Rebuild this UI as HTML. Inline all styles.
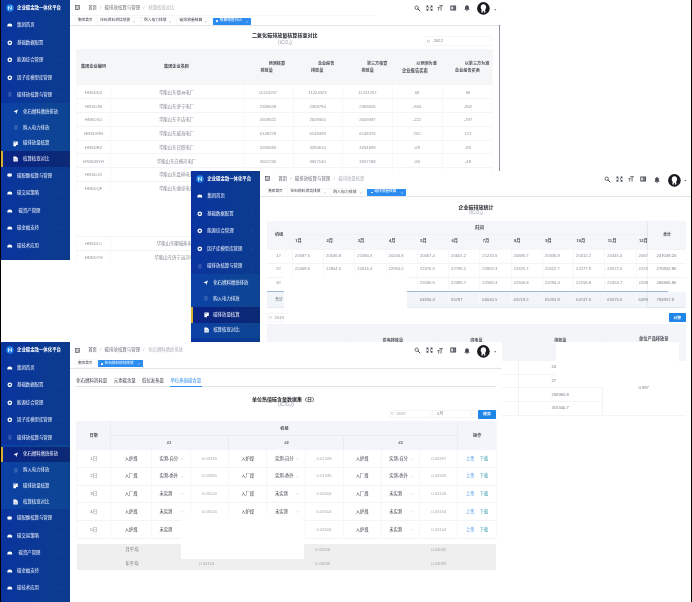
<!DOCTYPE html>
<html lang="zh-CN">
<head>
<meta charset="utf-8">
<title>企业碳金融一体化平台</title>
<style>
html,body{margin:0;padding:0;background:#fff;}
body{width:692px;height:602px;overflow:hidden;position:relative;font-family:"Liberation Sans","Noto Sans CJK SC",sans-serif;}
#page{position:absolute;left:-6px;top:-6px;width:704px;height:614px;overflow:hidden;background:#fff;filter:blur(.3px);}
#w{position:absolute;left:6px;top:6px;width:692px;height:602px;}
.in{position:absolute;}
.shot{position:absolute;overflow:hidden;background:#fff;}
.r{position:absolute;}
.i{position:absolute;overflow:visible;filter:blur(.3px);}
.t{position:absolute;display:inline-flex;align-items:center;white-space:nowrap;line-height:1;filter:blur(0.4px);}
.t i.sb{font-style:normal;position:relative;top:.3em;}
.t span{display:block;}
#A{left:-6px;top:-6px;width:507px;height:269px;}
#A>.in{left:6px;top:6px;}
#B{left:191.3px;top:171.25px;width:499.3px;height:244.4px;}
#B>.in{left:-1.1px;top:0;}
#C{left:-6px;top:342px;width:508.3px;height:268px;}
#C>.in{left:6px;top:0;}
#edge{position:absolute;left:690.6px;top:-6px;width:8px;height:614px;background:#000;}
#edgeL{position:absolute;left:-6px;top:-6px;width:7.2px;height:614px;background:#000;}
</style>
</head>
<body>
<div id="page"><div id="w">
<div class="shot" id="A"><div class="in"><svg class="i" style="left:75px;top:5px;" width="5.2" height="5.2" viewBox="0 0 52 52"><rect x="5" y="6" width="42" height="40" fill="none" stroke="#3d424a" stroke-width="6"/><path d="M19 6V46" stroke="#3d424a" stroke-width="5"/><path d="M27 17H41M27 26H41M27 35H41" stroke="#4a4f58" stroke-width="4"/></svg><div class="t" style="left:88.2px;top:7.6px;font-size:4.3px;color:#3f444c;transform:translate(0,-50%);"><span>首页</span></div><div class="t" style="left:100.8px;top:7.6px;font-size:4.1px;color:#aaa;transform:translate(-50%,-50%);"><span>/</span></div><div class="t" style="left:104.6px;top:7.6px;font-size:4.45px;color:#6a6f78;transform:translate(0,-50%);"><span>碳排放核算与管理</span></div><div class="t" style="left:143.8px;top:7.6px;font-size:4.1px;color:#aaa;transform:translate(-50%,-50%);"><span>/</span></div><div class="t" style="left:148.4px;top:7.6px;font-size:4.3px;color:#a9aeb6;transform:translate(0,-50%);"><span>核算核查对比</span></div><svg class="i" style="left:413.8px;top:4.6px;" width="6.8" height="6.8" viewBox="0 0 68 68"><circle cx="27" cy="27" r="17" fill="none" stroke="#454a53" stroke-width="8"/><path d="M40 40L60 60" stroke="#454a53" stroke-width="10" stroke-linecap="round"/></svg><svg class="i" style="left:425.7px;top:4.9px;" width="7" height="6.2" viewBox="0 0 70 62"><path d="M5 5H27L19 13L29 23L23 29L13 19L5 27ZM65 5V27L57 19L47 29L41 23L51 13L43 5ZM5 57V35L13 43L23 33L29 39L19 49L27 57ZM65 57H43L51 49L41 39L47 33L57 43L65 35Z" fill="#454a53"/></svg><svg class="i" style="left:437.3px;top:5.2px;" width="6.2" height="5.8" viewBox="0 0 62 58"><path d="M22 7H60M41 7V56" stroke="#454a53" stroke-width="8"/><path d="M3 26H29M16 26V56" stroke="#454a53" stroke-width="7"/></svg><svg class="i" style="left:450px;top:4.6px;" width="6.4" height="6" viewBox="0 0 64 60"><rect x="3" y="4" width="58" height="52" rx="3" fill="#454a53"/><rect x="11" y="15" width="22" height="30" fill="#fff" opacity=".82"/><path d="M40 19H54M40 30H54M40 41H54" stroke="#fff" stroke-width="5" opacity=".7"/></svg><svg class="i" style="left:464px;top:5.4px;" width="6" height="6.4" viewBox="0 0 60 64"><path d="M30 3C16 3 11 14 11 26V38L3 48H57L49 38V26C49 14 44 3 30 3Z" fill="#454a53"/><path d="M22 52H38Q36 62 30 62Q24 62 22 52Z" fill="#454a53"/></svg><svg class="i" style="left:477.4px;top:2.3px;" width="12.8" height="12.8" viewBox="0 0 132 132"><circle cx="66" cy="66" r="65" fill="#191b21"/><ellipse cx="66" cy="54" rx="27" ry="31" fill="#fff"/><path d="M50 76L44 106Q66 116 88 106L82 76Z" fill="#fff"/><path d="M58 98L66 130L74 98L66 90Z" fill="#191b21"/></svg><svg class="i" style="left:493.5px;top:8.5px;" width="2.6" height="1.8" viewBox="0 0 26 18"><path d="M2 3H24L13 16Z" fill="#555"/></svg><div class="r" style="left:70px;top:14.9px;width:305.75px;height:0.6px;background:#f5f6f8;"></div><div class="r" style="left:75.5px;top:17.5px;width:22px;height:7.4px;background:#fff;box-shadow:0 0 0 .5px #f1f2f5;"></div><div class="t" style="left:78px;top:21.2px;font-size:3.62px;color:#3f444c;transform:translate(0,-50%);"><span>集团首页</span></div><div class="r" style="left:97.5px;top:17.5px;width:43px;height:7.4px;background:#fff;box-shadow:0 0 0 .5px #f1f2f5;"></div><div class="t" style="left:100px;top:21.2px;font-size:3.81px;color:#3f444c;transform:translate(0,-50%);"><span>化石燃料燃烧排放</span></div><svg class="i" style="left:133.4px;top:20.5px;" width="1.8" height="1.8" viewBox="0 0 18 18"><path d="M3 3L15 15M15 3L3 15" stroke="#8a8f98" stroke-width="4" opacity="0.9"/></svg><div class="r" style="left:141.5px;top:17.5px;width:35px;height:7.4px;background:#fff;box-shadow:0 0 0 .5px #f1f2f5;"></div><div class="t" style="left:144px;top:21.2px;font-size:3.75px;color:#3f444c;transform:translate(0,-50%);"><span>购入电力排放</span></div><svg class="i" style="left:169.4px;top:20.5px;" width="1.8" height="1.8" viewBox="0 0 18 18"><path d="M3 3L15 15M15 3L3 15" stroke="#8a8f98" stroke-width="4" opacity="0.9"/></svg><div class="r" style="left:177px;top:17.5px;width:35.4px;height:7.4px;background:#fff;box-shadow:0 0 0 .5px #f1f2f5;"></div><div class="t" style="left:179.5px;top:21.2px;font-size:3.82px;color:#3f444c;transform:translate(0,-50%);"><span>碳排放量核算</span></div><svg class="i" style="left:205.3px;top:20.5px;" width="1.8" height="1.8" viewBox="0 0 18 18"><path d="M3 3L15 15M15 3L3 15" stroke="#8a8f98" stroke-width="4" opacity="0.9"/></svg><div class="r" style="left:212.8px;top:17.5px;width:38.7px;height:7.4px;background:#2d8cf0;border-radius:.4px;"></div><div class="r" style="left:216.3px;top:20.4px;width:1.7px;height:1.7px;background:#fff;border-radius:50%;"></div><div class="t" style="left:219.8px;top:21.2px;font-size:3.7px;color:#fff;transform:translate(0,-50%);"><span>核算核查对比</span></div><svg class="i" style="left:246.4px;top:20.5px;" width="1.8" height="1.8" viewBox="0 0 18 18"><path d="M3 3L15 15M15 3L3 15" stroke="#fff" stroke-width="4" opacity="0.9"/></svg><div class="r" style="left:70px;top:24.6px;width:431px;height:1.2px;background:#e3e5ea;filter:blur(.45px);"></div><div class="t" style="left:284.8px;top:36px;font-size:5.05px;color:#1f2329;transform:translate(-50%,-50%);font-weight:bold;"><span>二氧化碳排放量核算核查对比</span></div><div class="t" style="left:285px;top:42.7px;font-size:4.9px;color:#9a9fa7;transform:translate(-50%,-50%);"><span>(tCO<i class="sb" style="font-size:3.43px">2</i>)</span></div><div class="r" style="left:425px;top:36px;width:67px;height:10px;background:#fff;box-shadow:inset 0 0 0 .5px #eceef3;border-radius:.6px;"></div><svg class="i" style="left:427px;top:39.5px;" width="3" height="3" viewBox="0 0 30 30"><rect x="3" y="6" width="24" height="21" fill="none" stroke="#b9bec8" stroke-width="4"/><path d="M3 13H27" stroke="#b9bec8" stroke-width="3"/></svg><div class="t" style="left:433.4px;top:41.1px;font-size:4.2px;color:#7b808a;transform:translate(0,-50%);"><span>2022</span></div><div class="r" style="left:76.75px;top:48.7px;width:415.25px;height:36.6px;background:#f5f6f8;"></div><div class="t" style="left:93.6px;top:67.4px;font-size:4.17px;color:#4c5058;transform:translate(-50%,-50%);font-weight:bold;"><span>集团企业编码</span></div><div class="t" style="left:176.5px;top:67.4px;font-size:4.17px;color:#4c5058;transform:translate(-50%,-50%);font-weight:bold;"><span>集团企业名称</span></div><div class="t" style="left:285px;top:64px;font-size:4.1px;color:#4c5058;transform:translate(-100%,-50%);font-weight:bold;"><span>预测核算</span></div><div class="t" style="left:260.5px;top:71px;font-size:4.1px;color:#4c5058;transform:translate(0,-50%);font-weight:bold;"><span>排放量</span></div><div class="t" style="left:334.3px;top:64px;font-size:4.1px;color:#4c5058;transform:translate(-100%,-50%);font-weight:bold;"><span>企业报告</span></div><div class="t" style="left:311px;top:71px;font-size:4.1px;color:#4c5058;transform:translate(0,-50%);font-weight:bold;"><span>排放量</span></div><div class="t" style="left:387.4px;top:64px;font-size:4.1px;color:#4c5058;transform:translate(-100%,-50%);font-weight:bold;"><span>第三方核查</span></div><div class="t" style="left:361.5px;top:71px;font-size:4.1px;color:#4c5058;transform:translate(0,-50%);font-weight:bold;"><span>排放量</span></div><div class="t" style="left:436.8px;top:64px;font-size:4.1px;color:#4c5058;transform:translate(-100%,-50%);font-weight:bold;"><span>以预测为准</span></div><div class="t" style="left:402px;top:71px;font-size:4.3px;color:#4c5058;transform:translate(0,-50%);font-weight:bold;"><span>企业报告买卖</span></div><div class="t" style="left:489.3px;top:64px;font-size:4.1px;color:#4c5058;transform:translate(-100%,-50%);font-weight:bold;"><span>以第三方为准</span></div><div class="t" style="left:455px;top:71px;font-size:4.15px;color:#4c5058;transform:translate(0,-50%);font-weight:bold;"><span>企业报告买卖</span></div><div class="r" style="left:76.75px;top:98.4px;width:415.25px;height:0.7px;background:#f3f4f7;"></div><div class="t" style="left:93.6px;top:92.9px;font-size:4.2px;color:#8f949c;transform:translate(-50%,-50%);"><span>HNSDDZ</span></div><div class="t" style="left:176.5px;top:92.9px;font-size:4.4px;color:#7d828b;transform:translate(-50%,-50%);"><span>华能山东德州电厂</span></div><div class="t" style="left:268px;top:92.9px;font-size:4.2px;color:#8f949c;transform:translate(-50%,-50%);"><span>11224257</span></div><div class="t" style="left:317.6px;top:92.9px;font-size:4.2px;color:#8f949c;transform:translate(-50%,-50%);"><span>11224325</span></div><div class="t" style="left:367.5px;top:92.9px;font-size:4.2px;color:#8f949c;transform:translate(-50%,-50%);"><span>11224257</span></div><div class="t" style="left:417px;top:92.9px;font-size:4.2px;color:#8f949c;transform:translate(-50%,-50%);"><span>68</span></div><div class="t" style="left:468px;top:92.9px;font-size:4.2px;color:#8f949c;transform:translate(-50%,-50%);"><span>68</span></div><div class="r" style="left:76.75px;top:112.15px;width:415.25px;height:0.7px;background:#f3f4f7;"></div><div class="t" style="left:93.6px;top:106.65px;font-size:4.2px;color:#8f949c;transform:translate(-50%,-50%);"><span>HNSDJN</span></div><div class="t" style="left:176.5px;top:106.65px;font-size:4.4px;color:#7d828b;transform:translate(-50%,-50%);"><span>华能山东济宁电厂</span></div><div class="t" style="left:268px;top:106.65px;font-size:4.2px;color:#8f949c;transform:translate(-50%,-50%);"><span>2369628</span></div><div class="t" style="left:317.6px;top:106.65px;font-size:4.2px;color:#8f949c;transform:translate(-50%,-50%);"><span>2368794</span></div><div class="t" style="left:367.5px;top:106.65px;font-size:4.2px;color:#8f949c;transform:translate(-50%,-50%);"><span>2369626</span></div><div class="t" style="left:417px;top:106.65px;font-size:4.2px;color:#8f949c;transform:translate(-50%,-50%);"><span>-834</span></div><div class="t" style="left:468px;top:106.65px;font-size:4.2px;color:#8f949c;transform:translate(-50%,-50%);"><span>-832</span></div><div class="r" style="left:76.75px;top:125.9px;width:415.25px;height:0.7px;background:#f3f4f7;"></div><div class="t" style="left:93.6px;top:120.4px;font-size:4.2px;color:#8f949c;transform:translate(-50%,-50%);"><span>HNSDXD</span></div><div class="t" style="left:176.5px;top:120.4px;font-size:4.4px;color:#7d828b;transform:translate(-50%,-50%);"><span>华能山东辛店电厂</span></div><div class="t" style="left:268px;top:120.4px;font-size:4.2px;color:#8f949c;transform:translate(-50%,-50%);"><span>2609522</span></div><div class="t" style="left:317.6px;top:120.4px;font-size:4.2px;color:#8f949c;transform:translate(-50%,-50%);"><span>2609300</span></div><div class="t" style="left:367.5px;top:120.4px;font-size:4.2px;color:#8f949c;transform:translate(-50%,-50%);"><span>2609497</span></div><div class="t" style="left:417px;top:120.4px;font-size:4.2px;color:#8f949c;transform:translate(-50%,-50%);"><span>-222</span></div><div class="t" style="left:468px;top:120.4px;font-size:4.2px;color:#8f949c;transform:translate(-50%,-50%);"><span>-197</span></div><div class="r" style="left:76.75px;top:139.65px;width:415.25px;height:0.7px;background:#f3f4f7;"></div><div class="t" style="left:93.6px;top:134.15px;font-size:4.2px;color:#8f949c;transform:translate(-50%,-50%);"><span>HNSDWH</span></div><div class="t" style="left:176.5px;top:134.15px;font-size:4.4px;color:#7d828b;transform:translate(-50%,-50%);"><span>华能山东威海电厂</span></div><div class="t" style="left:268px;top:134.15px;font-size:4.2px;color:#8f949c;transform:translate(-50%,-50%);"><span>6148278</span></div><div class="t" style="left:317.6px;top:134.15px;font-size:4.2px;color:#8f949c;transform:translate(-50%,-50%);"><span>6148498</span></div><div class="t" style="left:367.5px;top:134.15px;font-size:4.2px;color:#8f949c;transform:translate(-50%,-50%);"><span>6148376</span></div><div class="t" style="left:417px;top:134.15px;font-size:4.2px;color:#8f949c;transform:translate(-50%,-50%);"><span>220</span></div><div class="t" style="left:468px;top:134.15px;font-size:4.2px;color:#8f949c;transform:translate(-50%,-50%);"><span>122</span></div><div class="r" style="left:76.75px;top:153.4px;width:415.25px;height:0.7px;background:#f3f4f7;"></div><div class="t" style="left:93.6px;top:147.9px;font-size:4.2px;color:#8f949c;transform:translate(-50%,-50%);"><span>HNSDRZ</span></div><div class="t" style="left:176.5px;top:147.9px;font-size:4.4px;color:#7d828b;transform:translate(-50%,-50%);"><span>华能山东日照电厂</span></div><div class="t" style="left:268px;top:147.9px;font-size:4.2px;color:#8f949c;transform:translate(-50%,-50%);"><span>3294683</span></div><div class="t" style="left:317.6px;top:147.9px;font-size:4.2px;color:#8f949c;transform:translate(-50%,-50%);"><span>3294614</span></div><div class="t" style="left:367.5px;top:147.9px;font-size:4.2px;color:#8f949c;transform:translate(-50%,-50%);"><span>3294699</span></div><div class="t" style="left:417px;top:147.9px;font-size:4.2px;color:#8f949c;transform:translate(-50%,-50%);"><span>-69</span></div><div class="t" style="left:468px;top:147.9px;font-size:4.2px;color:#8f949c;transform:translate(-50%,-50%);"><span>-85</span></div><div class="r" style="left:76.75px;top:167.15px;width:415.25px;height:0.7px;background:#f3f4f7;"></div><div class="t" style="left:93.6px;top:161.65px;font-size:4.2px;color:#8f949c;transform:translate(-50%,-50%);"><span>HNSDBYH</span></div><div class="t" style="left:176.5px;top:161.65px;font-size:4.4px;color:#7d828b;transform:translate(-50%,-50%);"><span>华能山东白杨河电厂</span></div><div class="t" style="left:268px;top:161.65px;font-size:4.2px;color:#8f949c;transform:translate(-50%,-50%);"><span>3657230</span></div><div class="t" style="left:317.6px;top:161.65px;font-size:4.2px;color:#8f949c;transform:translate(-50%,-50%);"><span>3657140</span></div><div class="t" style="left:367.5px;top:161.65px;font-size:4.2px;color:#8f949c;transform:translate(-50%,-50%);"><span>3657188</span></div><div class="t" style="left:417px;top:161.65px;font-size:4.2px;color:#8f949c;transform:translate(-50%,-50%);"><span>-90</span></div><div class="t" style="left:468px;top:161.65px;font-size:4.2px;color:#8f949c;transform:translate(-50%,-50%);"><span>-48</span></div><div class="r" style="left:76.75px;top:180.9px;width:415.25px;height:0.7px;background:#f3f4f7;"></div><div class="t" style="left:93.6px;top:175.4px;font-size:4.2px;color:#8f949c;transform:translate(-50%,-50%);"><span>HNSDJX</span></div><div class="t" style="left:176.5px;top:175.4px;font-size:4.4px;color:#7d828b;transform:translate(-50%,-50%);"><span>华能山东嘉祥电厂</span></div><div class="t" style="left:268px;top:175.4px;font-size:4.2px;color:#8f949c;transform:translate(-50%,-50%);"><span>1953412</span></div><div class="t" style="left:317.6px;top:175.4px;font-size:4.2px;color:#8f949c;transform:translate(-50%,-50%);"><span>1953380</span></div><div class="t" style="left:367.5px;top:175.4px;font-size:4.2px;color:#8f949c;transform:translate(-50%,-50%);"><span>1953398</span></div><div class="t" style="left:417px;top:175.4px;font-size:4.2px;color:#8f949c;transform:translate(-50%,-50%);"><span>-32</span></div><div class="t" style="left:468px;top:175.4px;font-size:4.2px;color:#8f949c;transform:translate(-50%,-50%);"><span>-14</span></div><div class="r" style="left:76.75px;top:194.65px;width:415.25px;height:0.7px;background:#f3f4f7;"></div><div class="t" style="left:93.6px;top:189.15px;font-size:4.2px;color:#8f949c;transform:translate(-50%,-50%);"><span>HNSDQF</span></div><div class="t" style="left:176.5px;top:189.15px;font-size:4.4px;color:#7d828b;transform:translate(-50%,-50%);"><span>华能山东曲阜电厂</span></div><div class="t" style="left:268px;top:189.15px;font-size:4.2px;color:#8f949c;transform:translate(-50%,-50%);"><span>1478820</span></div><div class="t" style="left:317.6px;top:189.15px;font-size:4.2px;color:#8f949c;transform:translate(-50%,-50%);"><span>1478902</span></div><div class="t" style="left:367.5px;top:189.15px;font-size:4.2px;color:#8f949c;transform:translate(-50%,-50%);"><span>1478866</span></div><div class="t" style="left:417px;top:189.15px;font-size:4.2px;color:#8f949c;transform:translate(-50%,-50%);"><span>82</span></div><div class="t" style="left:468px;top:189.15px;font-size:4.2px;color:#8f949c;transform:translate(-50%,-50%);"><span>46</span></div><div class="r" style="left:76.75px;top:208.4px;width:415.25px;height:0.7px;background:#f3f4f7;"></div><div class="r" style="left:76.75px;top:222.15px;width:415.25px;height:0.7px;background:#f3f4f7;"></div><div class="r" style="left:76.75px;top:235.9px;width:415.25px;height:0.7px;background:#f3f4f7;"></div><div class="r" style="left:76.75px;top:249.65px;width:415.25px;height:0.7px;background:#f3f4f7;"></div><div class="t" style="left:93.6px;top:244.15px;font-size:4.2px;color:#8f949c;transform:translate(-50%,-50%);"><span>HNSDLC</span></div><div class="t" style="left:176.5px;top:244.15px;font-size:4.4px;color:#7d828b;transform:translate(-50%,-50%);"><span>华能山东聊城热电厂</span></div><div class="t" style="left:268px;top:244.15px;font-size:4.2px;color:#8f949c;transform:translate(-50%,-50%);"><span>4025716</span></div><div class="t" style="left:317.6px;top:244.15px;font-size:4.2px;color:#8f949c;transform:translate(-50%,-50%);"><span>4025640</span></div><div class="t" style="left:367.5px;top:244.15px;font-size:4.2px;color:#8f949c;transform:translate(-50%,-50%);"><span>4025702</span></div><div class="t" style="left:417px;top:244.15px;font-size:4.2px;color:#8f949c;transform:translate(-50%,-50%);"><span>-76</span></div><div class="t" style="left:468px;top:244.15px;font-size:4.2px;color:#8f949c;transform:translate(-50%,-50%);"><span>-14</span></div><div class="r" style="left:76.75px;top:263.4px;width:415.25px;height:0.7px;background:#f3f4f7;"></div><div class="t" style="left:93.6px;top:257.9px;font-size:4.2px;color:#8f949c;transform:translate(-50%,-50%);"><span>HNSDYH</span></div><div class="t" style="left:176.5px;top:257.9px;font-size:4.4px;color:#7d828b;transform:translate(-50%,-50%);"><span>华能山东济宁运河电厂</span></div><div class="t" style="left:268px;top:257.9px;font-size:4.2px;color:#8f949c;transform:translate(-50%,-50%);"><span>5562081</span></div><div class="t" style="left:317.6px;top:257.9px;font-size:4.2px;color:#8f949c;transform:translate(-50%,-50%);"><span>5562133</span></div><div class="t" style="left:367.5px;top:257.9px;font-size:4.2px;color:#8f949c;transform:translate(-50%,-50%);"><span>5562100</span></div><div class="t" style="left:417px;top:257.9px;font-size:4.2px;color:#8f949c;transform:translate(-50%,-50%);"><span>52</span></div><div class="t" style="left:468px;top:257.9px;font-size:4.2px;color:#8f949c;transform:translate(-50%,-50%);"><span>19</span></div><div class="r" style="left:76.4px;top:49px;width:0.7px;height:217px;background:#f7f8fa;"></div><div class="r" style="left:109.65px;top:85px;width:0.7px;height:181px;background:#f7f8fa;"></div><div class="r" style="left:242.65px;top:85px;width:0.7px;height:181px;background:#f7f8fa;"></div><div class="r" style="left:292.65px;top:85px;width:0.7px;height:181px;background:#f7f8fa;"></div><div class="r" style="left:342.15px;top:85px;width:0.7px;height:181px;background:#f7f8fa;"></div><div class="r" style="left:391.65px;top:85px;width:0.7px;height:181px;background:#f7f8fa;"></div><div class="r" style="left:441.65px;top:85px;width:0.7px;height:181px;background:#f7f8fa;"></div><div class="r" style="left:491.65px;top:49px;width:0.7px;height:217px;background:#f7f8fa;"></div><div class="r" style="left:69.6px;top:191px;width:135px;height:44.3px;background:#fff;"></div><div class="r" style="left:499.3px;top:25.2px;width:1.1px;height:240px;background:#8d939c;"></div><div class="r" style="left:-6px;top:-6px;width:76px;height:265.6px;background:linear-gradient(90deg,#0a33a0,#0b3a92 70%,#0b3a8e);"></div><div class="r" style="left:0px;top:102.8px;width:70px;height:64.2px;background:linear-gradient(90deg,#0b41a6,#0d4496 70%,#0d4492);"></div><div class="r" style="left:0px;top:151.25px;width:70px;height:15.75px;background:linear-gradient(90deg,#0a2386,#0c2a74);"></div><div class="r" style="left:1.2px;top:151.25px;width:1.5px;height:15.75px;background:#d8b035;"></div><svg class="i" style="left:6px;top:3.6px;" width="8" height="8" viewBox="0 0 80 80"><circle cx="40" cy="40" r="38" fill="#1d78e2"/><circle cx="34" cy="34" r="26" fill="#2f93f5" opacity=".7"/><path d="M25 57V25L55 55V23" fill="none" stroke="#e6f2ff" stroke-width="8" stroke-linejoin="round" stroke-linecap="round"/></svg><div class="t" style="left:17px;top:7.6px;font-size:4.4px;color:#fff;transform:translate(0,-50%);font-weight:bold;"><span>企业碳金融一体化平台</span></div><svg class="i" style="left:7.2px;top:22.1px;" width="5.6" height="4.8" viewBox="0 0 56 48"><path d="M3 40A25 25 0 0 1 53 40Q53 46 48 46H8Q3 46 3 40Z" fill="#fff"/><path d="M22 46V40H34V46Z" fill="#0a369a" opacity=".55"/></svg><div class="t" style="left:17px;top:25px;font-size:4.4px;color:#f4f7ff;transform:translate(0,-50%);"><span>集团首页</span></div><svg class="i" style="left:7.2px;top:39.7px;" width="5.6" height="5.6" viewBox="0 0 56 56"><circle cx="28" cy="28" r="17" fill="none" stroke="#fff" stroke-width="13"/></svg><div class="t" style="left:17px;top:42.5px;font-size:4.4px;color:#f4f7ff;transform:translate(0,-50%);"><span>基础数据配置</span></div><svg class="i" style="left:60.4px;top:41.3px;" width="3.2" height="2.4" viewBox="0 0 32 24"><path d="M4 5L16 18L28 5" fill="none" stroke="#7fa3e6" stroke-width="4" opacity=".38"/></svg><svg class="i" style="left:7.2px;top:57.2px;" width="5.6" height="5.6" viewBox="0 0 56 56"><circle cx="28" cy="28" r="17" fill="none" stroke="#fff" stroke-width="13"/></svg><div class="t" style="left:17px;top:60px;font-size:4.4px;color:#f4f7ff;transform:translate(0,-50%);"><span>能源综合管理</span></div><svg class="i" style="left:60.4px;top:58.8px;" width="3.2" height="2.4" viewBox="0 0 32 24"><path d="M4 5L16 18L28 5" fill="none" stroke="#7fa3e6" stroke-width="4" opacity=".38"/></svg><svg class="i" style="left:7.2px;top:74.7px;" width="5.6" height="5.6" viewBox="0 0 56 56"><circle cx="28" cy="28" r="17" fill="none" stroke="#fff" stroke-width="13"/></svg><div class="t" style="left:17px;top:77.5px;font-size:4.4px;color:#f4f7ff;transform:translate(0,-50%);"><span>因子库模型库管理</span></div><svg class="i" style="left:60.4px;top:76.3px;" width="3.2" height="2.4" viewBox="0 0 32 24"><path d="M4 5L16 18L28 5" fill="none" stroke="#7fa3e6" stroke-width="4" opacity=".38"/></svg><svg class="i" style="left:8.1px;top:92.4px;" width="3.8" height="5.2" viewBox="0 0 38 52"><rect x="4" y="4" width="30" height="44" fill="none" stroke="#9db7e6" stroke-width="4" opacity=".35"/><path d="M8 12H30M8 24H30M8 36H30" stroke="#a9c1ee" stroke-width="5" opacity=".6"/></svg><div class="t" style="left:17px;top:95px;font-size:4.4px;color:#f4f7ff;transform:translate(0,-50%);"><span>碳排放核算与管理</span></div><svg class="i" style="left:60.4px;top:93.8px;" width="3.2" height="2.4" viewBox="0 0 32 24"><path d="M4 5L16 18L28 5" fill="none" stroke="#7fa3e6" stroke-width="4" opacity=".38"/></svg><svg class="i" style="left:7.4px;top:173.3px;" width="5.2" height="4.4" viewBox="0 0 52 44"><rect x="4" y="4" width="44" height="30" rx="6" fill="#fff"/><rect x="14" y="36" width="24" height="5" fill="#fff" opacity=".7"/></svg><div class="t" style="left:17px;top:175.5px;font-size:4.4px;color:#f4f7ff;transform:translate(0,-50%);"><span>碳配额核算与管理</span></div><svg class="i" style="left:60.4px;top:174.3px;" width="3.2" height="2.4" viewBox="0 0 32 24"><path d="M4 5L16 18L28 5" fill="none" stroke="#7fa3e6" stroke-width="4" opacity=".38"/></svg><svg class="i" style="left:7.2px;top:190.1px;" width="5.6" height="4.8" viewBox="0 0 56 48"><path d="M3 40A25 25 0 0 1 53 40Q53 46 48 46H8Q3 46 3 40Z" fill="#fff"/><path d="M22 46V40H34V46Z" fill="#0a369a" opacity=".55"/></svg><div class="t" style="left:17px;top:193px;font-size:4.4px;color:#f4f7ff;transform:translate(0,-50%);"><span>碳交易策略</span></div><svg class="i" style="left:60.4px;top:191.8px;" width="3.2" height="2.4" viewBox="0 0 32 24"><path d="M4 5L16 18L28 5" fill="none" stroke="#7fa3e6" stroke-width="4" opacity=".38"/></svg><svg class="i" style="left:7.2px;top:207.85px;" width="5.6" height="4.8" viewBox="0 0 56 48"><path d="M3 40A25 25 0 0 1 53 40Q53 46 48 46H8Q3 46 3 40Z" fill="#fff"/><path d="M22 46V40H34V46Z" fill="#0a369a" opacity=".55"/></svg><div class="t" style="left:18.5px;top:210.75px;font-size:4.4px;color:#f4f7ff;transform:translate(0,-50%);"><span>碳资产管理</span></div><svg class="i" style="left:60.4px;top:209.55px;" width="3.2" height="2.4" viewBox="0 0 32 24"><path d="M4 5L16 18L28 5" fill="none" stroke="#7fa3e6" stroke-width="4" opacity=".38"/></svg><svg class="i" style="left:7.2px;top:225.35px;" width="5.6" height="4.8" viewBox="0 0 56 48"><path d="M3 40A25 25 0 0 1 53 40Q53 46 48 46H8Q3 46 3 40Z" fill="#fff"/><path d="M22 46V40H34V46Z" fill="#0a369a" opacity=".55"/></svg><div class="t" style="left:17px;top:228.25px;font-size:4.4px;color:#f4f7ff;transform:translate(0,-50%);"><span>碳金融支持</span></div><svg class="i" style="left:60.4px;top:227.05px;" width="3.2" height="2.4" viewBox="0 0 32 24"><path d="M4 5L16 18L28 5" fill="none" stroke="#7fa3e6" stroke-width="4" opacity=".38"/></svg><svg class="i" style="left:7.2px;top:242.85px;" width="5.6" height="4.8" viewBox="0 0 56 48"><path d="M3 40A25 25 0 0 1 53 40Q53 46 48 46H8Q3 46 3 40Z" fill="#fff"/><path d="M22 46V40H34V46Z" fill="#0a369a" opacity=".55"/></svg><div class="t" style="left:17px;top:245.75px;font-size:4.4px;color:#f4f7ff;transform:translate(0,-50%);"><span>碳技术应用</span></div><svg class="i" style="left:60.4px;top:244.55px;" width="3.2" height="2.4" viewBox="0 0 32 24"><path d="M4 5L16 18L28 5" fill="none" stroke="#7fa3e6" stroke-width="4" opacity=".38"/></svg><svg class="i" style="left:13.2px;top:109.08px;" width="5.6" height="5.6" viewBox="0 0 56 56"><path d="M50 6L4 26L26 31L31 52Z" fill="#fff"/></svg><div class="t" style="left:23px;top:111.88px;font-size:4.4px;color:#f4f7ff;transform:translate(0,-50%);"><span>化石燃料燃烧排放</span></div><svg class="i" style="left:14.1px;top:125.03px;" width="3.8" height="5.2" viewBox="0 0 38 52"><rect x="4" y="4" width="30" height="44" fill="none" stroke="#9db7e6" stroke-width="4" opacity=".35"/><path d="M8 12H30M8 24H30M8 36H30" stroke="#a9c1ee" stroke-width="5" opacity=".6"/></svg><div class="t" style="left:23px;top:127.62px;font-size:4.4px;color:#f4f7ff;transform:translate(0,-50%);"><span>购入电力排放</span></div><svg class="i" style="left:13.4px;top:140.57px;" width="5.2" height="5.6" viewBox="0 0 52 56"><path d="M4 4H48V40H30V52H4Z" fill="#fff"/><rect x="12" y="12" width="18" height="10" fill="#0c429e" opacity=".55"/></svg><div class="t" style="left:23px;top:143.38px;font-size:4.4px;color:#f4f7ff;transform:translate(0,-50%);"><span>碳排放量核算</span></div><svg class="i" style="left:13.4px;top:156.22px;" width="5.2" height="5.8" viewBox="0 0 52 58"><path d="M4 4H30L48 20V54H4Z" fill="#fff"/><path d="M14 30H38M14 41H38" stroke="#0b267e" stroke-width="5" opacity=".6"/></svg><div class="t" style="left:23px;top:159.12px;font-size:4.4px;color:#f4f7ff;transform:translate(0,-50%);"><span>核算核查对比</span></div></div></div>
<div class="shot" id="B"><div class="in"><svg class="i" style="left:75px;top:5px;" width="5.2" height="5.2" viewBox="0 0 52 52"><rect x="5" y="6" width="42" height="40" fill="none" stroke="#3d424a" stroke-width="6"/><path d="M19 6V46" stroke="#3d424a" stroke-width="5"/><path d="M27 17H41M27 26H41M27 35H41" stroke="#4a4f58" stroke-width="4"/></svg><div class="t" style="left:88.2px;top:7.6px;font-size:4.3px;color:#3f444c;transform:translate(0,-50%);"><span>首页</span></div><div class="t" style="left:100.8px;top:7.6px;font-size:4.1px;color:#aaa;transform:translate(-50%,-50%);"><span>/</span></div><div class="t" style="left:104.6px;top:7.6px;font-size:4.45px;color:#6a6f78;transform:translate(0,-50%);"><span>碳排放核算与管理</span></div><div class="t" style="left:143.8px;top:7.6px;font-size:4.1px;color:#aaa;transform:translate(-50%,-50%);"><span>/</span></div><div class="t" style="left:148.4px;top:7.6px;font-size:4.3px;color:#a9aeb6;transform:translate(0,-50%);"><span>碳排放量核算</span></div><svg class="i" style="left:413.8px;top:4.6px;" width="6.8" height="6.8" viewBox="0 0 68 68"><circle cx="27" cy="27" r="17" fill="none" stroke="#454a53" stroke-width="8"/><path d="M40 40L60 60" stroke="#454a53" stroke-width="10" stroke-linecap="round"/></svg><svg class="i" style="left:425.7px;top:4.9px;" width="7" height="6.2" viewBox="0 0 70 62"><path d="M5 5H27L19 13L29 23L23 29L13 19L5 27ZM65 5V27L57 19L47 29L41 23L51 13L43 5ZM5 57V35L13 43L23 33L29 39L19 49L27 57ZM65 57H43L51 49L41 39L47 33L57 43L65 35Z" fill="#454a53"/></svg><svg class="i" style="left:437.3px;top:5.2px;" width="6.2" height="5.8" viewBox="0 0 62 58"><path d="M22 7H60M41 7V56" stroke="#454a53" stroke-width="8"/><path d="M3 26H29M16 26V56" stroke="#454a53" stroke-width="7"/></svg><svg class="i" style="left:450px;top:4.6px;" width="6.4" height="6" viewBox="0 0 64 60"><rect x="3" y="4" width="58" height="52" rx="3" fill="#454a53"/><rect x="11" y="15" width="22" height="30" fill="#fff" opacity=".82"/><path d="M40 19H54M40 30H54M40 41H54" stroke="#fff" stroke-width="5" opacity=".7"/></svg><svg class="i" style="left:464px;top:5.4px;" width="6" height="6.4" viewBox="0 0 60 64"><path d="M30 3C16 3 11 14 11 26V38L3 48H57L49 38V26C49 14 44 3 30 3Z" fill="#454a53"/><path d="M22 52H38Q36 62 30 62Q24 62 22 52Z" fill="#454a53"/></svg><svg class="i" style="left:477.4px;top:2.3px;" width="12.8" height="12.8" viewBox="0 0 132 132"><circle cx="66" cy="66" r="65" fill="#191b21"/><ellipse cx="66" cy="54" rx="27" ry="31" fill="#fff"/><path d="M50 76L44 106Q66 116 88 106L82 76Z" fill="#fff"/><path d="M58 98L66 130L74 98L66 90Z" fill="#191b21"/></svg><svg class="i" style="left:493.5px;top:8.5px;" width="2.6" height="1.8" viewBox="0 0 26 18"><path d="M2 3H24L13 16Z" fill="#555"/></svg><div class="r" style="left:75.5px;top:17.5px;width:22px;height:7.4px;background:#fff;box-shadow:0 0 0 .5px #f1f2f5;"></div><div class="t" style="left:78px;top:21.2px;font-size:3.62px;color:#3f444c;transform:translate(0,-50%);"><span>集团首页</span></div><div class="r" style="left:97.5px;top:17.5px;width:43px;height:7.4px;background:#fff;box-shadow:0 0 0 .5px #f1f2f5;"></div><div class="t" style="left:100px;top:21.2px;font-size:3.81px;color:#3f444c;transform:translate(0,-50%);"><span>化石燃料燃烧排放</span></div><svg class="i" style="left:133.4px;top:20.5px;" width="1.8" height="1.8" viewBox="0 0 18 18"><path d="M3 3L15 15M15 3L3 15" stroke="#8a8f98" stroke-width="4" opacity="0.9"/></svg><div class="r" style="left:140.5px;top:17.5px;width:36px;height:7.4px;background:#fff;box-shadow:0 0 0 .5px #f1f2f5;"></div><div class="t" style="left:143px;top:21.2px;font-size:3.92px;color:#3f444c;transform:translate(0,-50%);"><span>购入电力排放</span></div><svg class="i" style="left:169.4px;top:20.5px;" width="1.8" height="1.8" viewBox="0 0 18 18"><path d="M3 3L15 15M15 3L3 15" stroke="#8a8f98" stroke-width="4" opacity="0.9"/></svg><div class="r" style="left:177.2px;top:17.5px;width:38.5px;height:7.4px;background:#2d8cf0;border-radius:.4px;"></div><div class="r" style="left:180.7px;top:20.4px;width:1.7px;height:1.7px;background:#fff;border-radius:50%;"></div><div class="t" style="left:184.2px;top:21.2px;font-size:3.67px;color:#fff;transform:translate(0,-50%);"><span>碳排放量核算</span></div><svg class="i" style="left:210.6px;top:20.5px;" width="1.8" height="1.8" viewBox="0 0 18 18"><path d="M3 3L15 15M15 3L3 15" stroke="#fff" stroke-width="4" opacity="0.9"/></svg><div class="r" style="left:70px;top:24.6px;width:431px;height:1.2px;background:#e3e5ea;filter:blur(.45px);"></div><div class="t" style="left:285.8px;top:35.75px;font-size:5px;color:#1f2329;transform:translate(-50%,-50%);font-weight:bold;"><span>企业碳排放统计</span></div><div class="t" style="left:285.8px;top:41.75px;font-size:4.9px;color:#9a9fa7;transform:translate(-50%,-50%);"><span>(tCO<i class="sb" style="font-size:3.43px">2</i>)</span></div><div class="r" style="left:76.55px;top:49.25px;width:419.25px;height:29px;background:#f4f6fa;"></div><div class="t" style="left:88.8px;top:63.25px;font-size:4.1px;color:#4c5058;transform:translate(-50%,-50%);font-weight:bold;"><span>机组</span></div><div class="t" style="left:289.4px;top:56.35px;font-size:4.3px;color:#4c5058;transform:translate(-50%,-50%);font-weight:bold;"><span>时间</span></div><div class="r" style="left:102.05px;top:63.05px;width:355.75px;height:0.6px;background:#eff1f6;"></div><div class="r" style="left:76.55px;top:120.35px;width:419.25px;height:15.6px;background:#f1f4f9;"></div><div class="t" style="left:105px;top:70.15px;font-size:4.2px;color:#4c5058;transform:translate(0,-50%);font-weight:bold;"><span>1月</span></div><div class="r" style="left:101.65px;top:78.25px;width:0.7px;height:57.5px;background:#f6f7f9;"></div><div class="t" style="left:104.6px;top:84.35px;font-size:4.2px;color:#8a8f98;transform:translate(0,-50%);"><span>20587.5</span></div><div class="t" style="left:104.6px;top:98.05px;font-size:4.2px;color:#8a8f98;transform:translate(0,-50%);"><span>22469.8</span></div><div class="t" style="left:104.6px;top:111.85px;font-size:4.2px;color:#8a8f98;transform:translate(0,-50%);"><span>21877.1</span></div><div class="t" style="left:104.6px;top:129.05px;font-size:4.2px;color:#7d838d;transform:translate(0,-50%);"><span>64934.4</span></div><div class="t" style="left:136.25px;top:70.15px;font-size:4.2px;color:#4c5058;transform:translate(0,-50%);font-weight:bold;"><span>2月</span></div><div class="r" style="left:132.9px;top:78.25px;width:0.7px;height:57.5px;background:#f6f7f9;"></div><div class="t" style="left:135.85px;top:84.35px;font-size:4.2px;color:#8a8f98;transform:translate(0,-50%);"><span>20536.8</span></div><div class="t" style="left:135.85px;top:98.05px;font-size:4.2px;color:#8a8f98;transform:translate(0,-50%);"><span>22844.5</span></div><div class="t" style="left:135.85px;top:111.85px;font-size:4.2px;color:#8a8f98;transform:translate(0,-50%);"><span>22405.7</span></div><div class="t" style="left:135.85px;top:129.05px;font-size:4.2px;color:#7d838d;transform:translate(0,-50%);"><span>65787</span></div><div class="t" style="left:167.5px;top:70.15px;font-size:4.2px;color:#4c5058;transform:translate(0,-50%);font-weight:bold;"><span>3月</span></div><div class="r" style="left:164.15px;top:78.25px;width:0.7px;height:57.5px;background:#f6f7f9;"></div><div class="t" style="left:167.1px;top:84.35px;font-size:4.2px;color:#8a8f98;transform:translate(0,-50%);"><span>21084.5</span></div><div class="t" style="left:167.1px;top:98.05px;font-size:4.2px;color:#8a8f98;transform:translate(0,-50%);"><span>22616.4</span></div><div class="t" style="left:167.1px;top:111.85px;font-size:4.2px;color:#8a8f98;transform:translate(0,-50%);"><span>22945.6</span></div><div class="t" style="left:167.1px;top:129.05px;font-size:4.2px;color:#7d838d;transform:translate(0,-50%);"><span>66646.5</span></div><div class="t" style="left:198.75px;top:70.15px;font-size:4.2px;color:#4c5058;transform:translate(0,-50%);font-weight:bold;"><span>4月</span></div><div class="r" style="left:195.4px;top:78.25px;width:0.7px;height:57.5px;background:#f6f7f9;"></div><div class="t" style="left:198.35px;top:84.35px;font-size:4.2px;color:#8a8f98;transform:translate(0,-50%);"><span>20244.8</span></div><div class="t" style="left:198.35px;top:98.05px;font-size:4.2px;color:#8a8f98;transform:translate(0,-50%);"><span>22963.0</span></div><div class="t" style="left:198.35px;top:111.85px;font-size:4.2px;color:#8a8f98;transform:translate(0,-50%);"><span>22010.4</span></div><div class="t" style="left:198.35px;top:129.05px;font-size:4.2px;color:#7d838d;transform:translate(0,-50%);"><span>65218.2</span></div><div class="t" style="left:230px;top:70.15px;font-size:4.2px;color:#4c5058;transform:translate(0,-50%);font-weight:bold;"><span>5月</span></div><div class="r" style="left:226.65px;top:78.25px;width:0.7px;height:57.5px;background:#f6f7f9;"></div><div class="t" style="left:229.6px;top:84.35px;font-size:4.2px;color:#8a8f98;transform:translate(0,-50%);"><span>20467.4</span></div><div class="t" style="left:229.6px;top:98.05px;font-size:4.2px;color:#8a8f98;transform:translate(0,-50%);"><span>22376.5</span></div><div class="t" style="left:229.6px;top:111.85px;font-size:4.2px;color:#8a8f98;transform:translate(0,-50%);"><span>22090.5</span></div><div class="t" style="left:229.6px;top:129.05px;font-size:4.2px;color:#7d838d;transform:translate(0,-50%);"><span>64934.4</span></div><div class="t" style="left:261.25px;top:70.15px;font-size:4.2px;color:#4c5058;transform:translate(0,-50%);font-weight:bold;"><span>6月</span></div><div class="r" style="left:257.9px;top:78.25px;width:0.7px;height:57.5px;background:#f6f7f9;"></div><div class="t" style="left:260.85px;top:84.35px;font-size:4.2px;color:#8a8f98;transform:translate(0,-50%);"><span>20601.2</span></div><div class="t" style="left:260.85px;top:98.05px;font-size:4.2px;color:#8a8f98;transform:translate(0,-50%);"><span>22796.1</span></div><div class="t" style="left:260.85px;top:111.85px;font-size:4.2px;color:#8a8f98;transform:translate(0,-50%);"><span>22385.7</span></div><div class="t" style="left:260.85px;top:129.05px;font-size:4.2px;color:#7d838d;transform:translate(0,-50%);"><span>65787</span></div><div class="t" style="left:292.5px;top:70.15px;font-size:4.2px;color:#4c5058;transform:translate(0,-50%);font-weight:bold;"><span>7月</span></div><div class="r" style="left:289.15px;top:78.25px;width:0.7px;height:57.5px;background:#f6f7f9;"></div><div class="t" style="left:292.1px;top:84.35px;font-size:4.2px;color:#8a8f98;transform:translate(0,-50%);"><span>21213.5</span></div><div class="t" style="left:292.1px;top:98.05px;font-size:4.2px;color:#8a8f98;transform:translate(0,-50%);"><span>22852.3</span></div><div class="t" style="left:292.1px;top:111.85px;font-size:4.2px;color:#8a8f98;transform:translate(0,-50%);"><span>22580.3</span></div><div class="t" style="left:292.1px;top:129.05px;font-size:4.2px;color:#7d838d;transform:translate(0,-50%);"><span>66646.5</span></div><div class="t" style="left:323.75px;top:70.15px;font-size:4.2px;color:#4c5058;transform:translate(0,-50%);font-weight:bold;"><span>8月</span></div><div class="r" style="left:320.4px;top:78.25px;width:0.7px;height:57.5px;background:#f6f7f9;"></div><div class="t" style="left:323.35px;top:84.35px;font-size:4.2px;color:#8a8f98;transform:translate(0,-50%);"><span>20685.7</span></div><div class="t" style="left:323.35px;top:98.05px;font-size:4.2px;color:#8a8f98;transform:translate(0,-50%);"><span>22325.7</span></div><div class="t" style="left:323.35px;top:111.85px;font-size:4.2px;color:#8a8f98;transform:translate(0,-50%);"><span>22306.8</span></div><div class="t" style="left:323.35px;top:129.05px;font-size:4.2px;color:#7d838d;transform:translate(0,-50%);"><span>65218.2</span></div><div class="t" style="left:355px;top:70.15px;font-size:4.2px;color:#4c5058;transform:translate(0,-50%);font-weight:bold;"><span>9月</span></div><div class="r" style="left:351.65px;top:78.25px;width:0.7px;height:57.5px;background:#f6f7f9;"></div><div class="t" style="left:354.6px;top:84.35px;font-size:4.2px;color:#8a8f98;transform:translate(0,-50%);"><span>20336.8</span></div><div class="t" style="left:354.6px;top:98.05px;font-size:4.2px;color:#8a8f98;transform:translate(0,-50%);"><span>22622.7</span></div><div class="t" style="left:354.6px;top:111.85px;font-size:4.2px;color:#8a8f98;transform:translate(0,-50%);"><span>22294.4</span></div><div class="t" style="left:354.6px;top:129.05px;font-size:4.2px;color:#7d838d;transform:translate(0,-50%);"><span>65253.9</span></div><div class="t" style="left:386.25px;top:70.15px;font-size:4.2px;color:#4c5058;transform:translate(0,-50%);font-weight:bold;"><span>10月</span></div><div class="r" style="left:382.9px;top:78.25px;width:0.7px;height:57.5px;background:#f6f7f9;"></div><div class="t" style="left:385.85px;top:84.35px;font-size:4.2px;color:#8a8f98;transform:translate(0,-50%);"><span>20311.2</span></div><div class="t" style="left:385.85px;top:98.05px;font-size:4.2px;color:#8a8f98;transform:translate(0,-50%);"><span>22277.9</span></div><div class="t" style="left:385.85px;top:111.85px;font-size:4.2px;color:#8a8f98;transform:translate(0,-50%);"><span>22158.8</span></div><div class="t" style="left:385.85px;top:129.05px;font-size:4.2px;color:#7d838d;transform:translate(0,-50%);"><span>64747.9</span></div><div class="t" style="left:417.5px;top:70.15px;font-size:4.2px;color:#4c5058;transform:translate(0,-50%);font-weight:bold;"><span>11月</span></div><div class="r" style="left:414.15px;top:78.25px;width:0.7px;height:57.5px;background:#f6f7f9;"></div><div class="t" style="left:417.1px;top:84.35px;font-size:4.2px;color:#8a8f98;transform:translate(0,-50%);"><span>20445.4</span></div><div class="t" style="left:417.1px;top:98.05px;font-size:4.2px;color:#8a8f98;transform:translate(0,-50%);"><span>22672.5</span></div><div class="t" style="left:417.1px;top:111.85px;font-size:4.2px;color:#8a8f98;transform:translate(0,-50%);"><span>22453.7</span></div><div class="t" style="left:417.1px;top:129.05px;font-size:4.2px;color:#7d838d;transform:translate(0,-50%);"><span>65575.6</span></div><div class="t" style="left:448.75px;top:70.15px;font-size:4.2px;color:#4c5058;transform:translate(0,-50%);font-weight:bold;"><span>12月</span></div><div class="r" style="left:445.4px;top:78.25px;width:0.7px;height:57.5px;background:#f6f7f9;"></div><div class="t" style="left:448.35px;top:84.35px;font-size:4.2px;color:#8a8f98;transform:translate(0,-50%);"><span>20674.1</span></div><div class="t" style="left:448.35px;top:98.05px;font-size:4.2px;color:#8a8f98;transform:translate(0,-50%);"><span>22234.6</span></div><div class="t" style="left:448.35px;top:111.85px;font-size:4.2px;color:#8a8f98;transform:translate(0,-50%);"><span>22086.9</span></div><div class="t" style="left:448.35px;top:129.05px;font-size:4.2px;color:#7d838d;transform:translate(0,-50%);"><span>64995.6</span></div><div class="r" style="left:76.55px;top:91.7px;width:419.25px;height:0.7px;background:#f3f4f7;"></div><div class="r" style="left:76.55px;top:105.5px;width:419.25px;height:0.7px;background:#f3f4f7;"></div><div class="r" style="left:76.55px;top:119.45px;width:419.25px;height:1px;background:#a3b9d8;"></div><div class="r" style="left:76.55px;top:135.65px;width:419.25px;height:0.6px;background:#e6e9ef;"></div><div class="t" style="left:88.4px;top:84.35px;font-size:4.2px;color:#7b808a;transform:translate(-50%,-50%);"><span>1#</span></div><div class="t" style="left:88.4px;top:98.05px;font-size:4.2px;color:#7b808a;transform:translate(-50%,-50%);"><span>2#</span></div><div class="t" style="left:88.4px;top:111.85px;font-size:4.2px;color:#7b808a;transform:translate(-50%,-50%);"><span>3#</span></div><div class="t" style="left:88.8px;top:128.75px;font-size:4.1px;color:#6d7480;transform:translate(-50%,-50%);"><span>合计</span></div><div class="r" style="left:457.8px;top:49.25px;width:38px;height:29px;background:#f4f6fa;box-shadow:-1.2px 0 1.2px rgba(0,0,0,.07);"></div><div class="r" style="left:457.8px;top:78.25px;width:38px;height:42px;background:#fff;box-shadow:-1.2px 0 1.2px rgba(0,0,0,.06);"></div><div class="r" style="left:457.8px;top:120.55px;width:38px;height:15.4px;background:#f1f4f9;box-shadow:-1.2px 0 1.2px rgba(0,0,0,.06);"></div><div class="t" style="left:476.8px;top:63.25px;font-size:4.1px;color:#4c5058;transform:translate(-50%,-50%);font-weight:bold;"><span>合计</span></div><div class="t" style="left:466.4px;top:84.35px;font-size:4.2px;color:#767b85;transform:translate(0,-50%);"><span>247039.20</span></div><div class="t" style="left:466.4px;top:98.05px;font-size:4.2px;color:#767b85;transform:translate(0,-50%);"><span>270952.80</span></div><div class="t" style="left:466.4px;top:111.85px;font-size:4.2px;color:#767b85;transform:translate(0,-50%);"><span>266965.80</span></div><div class="t" style="left:466.4px;top:129.05px;font-size:4.2px;color:#767b85;transform:translate(0,-50%);"><span>784957.8</span></div><div class="r" style="left:457.8px;top:91.7px;width:38px;height:0.7px;background:#f3f4f7;"></div><div class="r" style="left:457.8px;top:105.5px;width:38px;height:0.7px;background:#f3f4f7;"></div><div class="r" style="left:457.8px;top:119.45px;width:20px;height:1px;background:#a3b9d8;"></div><div class="r" style="left:77px;top:141.35px;width:68px;height:9.9px;background:#fff;box-shadow:inset 0 0 0 .5px #eceef3;border-radius:.6px;"></div><svg class="i" style="left:78.8px;top:145.15px;" width="3" height="3" viewBox="0 0 30 30"><rect x="3" y="6" width="24" height="21" fill="none" stroke="#b9bec8" stroke-width="4"/></svg><div class="t" style="left:84.4px;top:146.55px;font-size:4.2px;color:#8a8f98;transform:translate(0,-50%);"><span>2019</span></div><div class="r" style="left:478.3px;top:141.95px;width:17.6px;height:8.6px;background:#1f86e8;border-radius:.8px;"></div><div class="t" style="left:487.1px;top:146.25px;font-size:3.9px;color:#fff;transform:translate(-50%,-50%);font-weight:bold;"><span>计算</span></div><div class="r" style="left:76.55px;top:152.55px;width:419.25px;height:37px;background:#f4f5f8;"></div><div class="r" style="left:160.05px;top:152.55px;width:0.7px;height:91.2px;background:#f1f2f5;"></div><div class="r" style="left:243.95px;top:152.55px;width:0.7px;height:91.2px;background:#f1f2f5;"></div><div class="r" style="left:327.75px;top:152.55px;width:0.7px;height:91.2px;background:#f1f2f5;"></div><div class="r" style="left:411.65px;top:152.55px;width:0.7px;height:91.2px;background:#f1f2f5;"></div><div class="t" style="left:202.6px;top:169.75px;font-size:4.1px;color:#4c5058;transform:translate(-50%,-50%);font-weight:bold;"><span>供电排放量</span></div><div class="t" style="left:286.2px;top:169.75px;font-size:4.1px;color:#4c5058;transform:translate(-50%,-50%);font-weight:bold;"><span>供电量</span></div><div class="t" style="left:370.1px;top:169.75px;font-size:4.1px;color:#4c5058;transform:translate(-50%,-50%);font-weight:bold;"><span>排放量</span></div><div class="t" style="left:478.2px;top:168.05px;font-size:4.2px;color:#4c5058;transform:translate(-100%,-50%);font-weight:bold;"><span>单位产品排放量</span></div><div class="t" style="left:434.8px;top:175.05px;font-size:4.2px;color:#4c5058;transform:translate(0,-50%);font-weight:bold;"><span>(tCO<i class="sb" style="font-size:2.94px">2</i>/MWh)</span></div><div class="t" style="left:361.2px;top:195.75px;font-size:4.2px;color:#767b85;transform:translate(0,-50%);"><span>247039.2</span></div><div class="t" style="left:361.2px;top:209.55px;font-size:4.2px;color:#767b85;transform:translate(0,-50%);"><span>270952.8</span></div><div class="t" style="left:361.2px;top:223.45px;font-size:4.2px;color:#767b85;transform:translate(0,-50%);"><span>256965.8</span></div><div class="t" style="left:361.2px;top:237.05px;font-size:4.2px;color:#767b85;transform:translate(0,-50%);"><span>315340.7</span></div><div class="r" style="left:76.55px;top:202.35px;width:335.45px;height:0.7px;background:#f3f4f7;"></div><div class="r" style="left:76.55px;top:216.1px;width:335.45px;height:0.7px;background:#f3f4f7;"></div><div class="r" style="left:76.55px;top:229.85px;width:335.45px;height:0.7px;background:#f3f4f7;"></div><div class="r" style="left:76.55px;top:243.6px;width:335.45px;height:0.7px;background:#f3f4f7;"></div><div class="r" style="left:412px;top:243.6px;width:83.8px;height:0.7px;background:#f3f4f7;"></div><div class="r" style="left:94px;top:105.05px;width:122.8px;height:47.2px;background:#fff;"></div><div class="r" style="left:365.6px;top:170.75px;width:123.4px;height:44.6px;background:#fff;"></div><div class="t" style="left:448.2px;top:216.95px;font-size:4.2px;color:#767b85;transform:translate(0,-50%);"><span>0.997</span></div><div class="r" style="left:0px;top:0px;width:70px;height:245px;background:linear-gradient(90deg,#0a33a0,#0b3a92 70%,#0b3a8e);"></div><div class="r" style="left:0px;top:102.8px;width:70px;height:64.2px;background:linear-gradient(90deg,#0b41a6,#0d4496 70%,#0d4492);"></div><div class="r" style="left:0px;top:135.5px;width:70px;height:15.75px;background:linear-gradient(90deg,#0a2386,#0c2a74);"></div><div class="r" style="left:1.2px;top:135.5px;width:1.5px;height:15.75px;background:#d8b035;"></div><svg class="i" style="left:6px;top:3.6px;" width="8" height="8" viewBox="0 0 80 80"><circle cx="40" cy="40" r="38" fill="#1d78e2"/><circle cx="34" cy="34" r="26" fill="#2f93f5" opacity=".7"/><path d="M25 57V25L55 55V23" fill="none" stroke="#e6f2ff" stroke-width="8" stroke-linejoin="round" stroke-linecap="round"/></svg><div class="t" style="left:17px;top:7.6px;font-size:4.4px;color:#fff;transform:translate(0,-50%);font-weight:bold;"><span>企业碳金融一体化平台</span></div><svg class="i" style="left:7.2px;top:22.1px;" width="5.6" height="4.8" viewBox="0 0 56 48"><path d="M3 40A25 25 0 0 1 53 40Q53 46 48 46H8Q3 46 3 40Z" fill="#fff"/><path d="M22 46V40H34V46Z" fill="#0a369a" opacity=".55"/></svg><div class="t" style="left:17px;top:25px;font-size:4.4px;color:#f4f7ff;transform:translate(0,-50%);"><span>集团首页</span></div><svg class="i" style="left:7.2px;top:39.7px;" width="5.6" height="5.6" viewBox="0 0 56 56"><circle cx="28" cy="28" r="17" fill="none" stroke="#fff" stroke-width="13"/></svg><div class="t" style="left:17px;top:42.5px;font-size:4.4px;color:#f4f7ff;transform:translate(0,-50%);"><span>基础数据配置</span></div><svg class="i" style="left:60.4px;top:41.3px;" width="3.2" height="2.4" viewBox="0 0 32 24"><path d="M4 5L16 18L28 5" fill="none" stroke="#7fa3e6" stroke-width="4" opacity=".38"/></svg><svg class="i" style="left:7.2px;top:57.2px;" width="5.6" height="5.6" viewBox="0 0 56 56"><circle cx="28" cy="28" r="17" fill="none" stroke="#fff" stroke-width="13"/></svg><div class="t" style="left:17px;top:60px;font-size:4.4px;color:#f4f7ff;transform:translate(0,-50%);"><span>能源综合管理</span></div><svg class="i" style="left:60.4px;top:58.8px;" width="3.2" height="2.4" viewBox="0 0 32 24"><path d="M4 5L16 18L28 5" fill="none" stroke="#7fa3e6" stroke-width="4" opacity=".38"/></svg><svg class="i" style="left:7.2px;top:74.7px;" width="5.6" height="5.6" viewBox="0 0 56 56"><circle cx="28" cy="28" r="17" fill="none" stroke="#fff" stroke-width="13"/></svg><div class="t" style="left:17px;top:77.5px;font-size:4.4px;color:#f4f7ff;transform:translate(0,-50%);"><span>因子库模型库管理</span></div><svg class="i" style="left:60.4px;top:76.3px;" width="3.2" height="2.4" viewBox="0 0 32 24"><path d="M4 5L16 18L28 5" fill="none" stroke="#7fa3e6" stroke-width="4" opacity=".38"/></svg><svg class="i" style="left:8.1px;top:92.4px;" width="3.8" height="5.2" viewBox="0 0 38 52"><rect x="4" y="4" width="30" height="44" fill="none" stroke="#9db7e6" stroke-width="4" opacity=".35"/><path d="M8 12H30M8 24H30M8 36H30" stroke="#a9c1ee" stroke-width="5" opacity=".6"/></svg><div class="t" style="left:17px;top:95px;font-size:4.4px;color:#f4f7ff;transform:translate(0,-50%);"><span>碳排放核算与管理</span></div><svg class="i" style="left:60.4px;top:93.8px;" width="3.2" height="2.4" viewBox="0 0 32 24"><path d="M4 5L16 18L28 5" fill="none" stroke="#7fa3e6" stroke-width="4" opacity=".38"/></svg><svg class="i" style="left:7.4px;top:173.3px;" width="5.2" height="4.4" viewBox="0 0 52 44"><rect x="4" y="4" width="44" height="30" rx="6" fill="#fff"/><rect x="14" y="36" width="24" height="5" fill="#fff" opacity=".7"/></svg><div class="t" style="left:17px;top:175.5px;font-size:4.4px;color:#f4f7ff;transform:translate(0,-50%);"><span>碳配额核算与管理</span></div><svg class="i" style="left:60.4px;top:174.3px;" width="3.2" height="2.4" viewBox="0 0 32 24"><path d="M4 5L16 18L28 5" fill="none" stroke="#7fa3e6" stroke-width="4" opacity=".38"/></svg><svg class="i" style="left:7.2px;top:190.1px;" width="5.6" height="4.8" viewBox="0 0 56 48"><path d="M3 40A25 25 0 0 1 53 40Q53 46 48 46H8Q3 46 3 40Z" fill="#fff"/><path d="M22 46V40H34V46Z" fill="#0a369a" opacity=".55"/></svg><div class="t" style="left:17px;top:193px;font-size:4.4px;color:#f4f7ff;transform:translate(0,-50%);"><span>碳交易策略</span></div><svg class="i" style="left:60.4px;top:191.8px;" width="3.2" height="2.4" viewBox="0 0 32 24"><path d="M4 5L16 18L28 5" fill="none" stroke="#7fa3e6" stroke-width="4" opacity=".38"/></svg><svg class="i" style="left:7.2px;top:207.85px;" width="5.6" height="4.8" viewBox="0 0 56 48"><path d="M3 40A25 25 0 0 1 53 40Q53 46 48 46H8Q3 46 3 40Z" fill="#fff"/><path d="M22 46V40H34V46Z" fill="#0a369a" opacity=".55"/></svg><div class="t" style="left:18.5px;top:210.75px;font-size:4.4px;color:#f4f7ff;transform:translate(0,-50%);"><span>碳资产管理</span></div><svg class="i" style="left:60.4px;top:209.55px;" width="3.2" height="2.4" viewBox="0 0 32 24"><path d="M4 5L16 18L28 5" fill="none" stroke="#7fa3e6" stroke-width="4" opacity=".38"/></svg><svg class="i" style="left:7.2px;top:225.35px;" width="5.6" height="4.8" viewBox="0 0 56 48"><path d="M3 40A25 25 0 0 1 53 40Q53 46 48 46H8Q3 46 3 40Z" fill="#fff"/><path d="M22 46V40H34V46Z" fill="#0a369a" opacity=".55"/></svg><div class="t" style="left:17px;top:228.25px;font-size:4.4px;color:#f4f7ff;transform:translate(0,-50%);"><span>碳金融支持</span></div><svg class="i" style="left:60.4px;top:227.05px;" width="3.2" height="2.4" viewBox="0 0 32 24"><path d="M4 5L16 18L28 5" fill="none" stroke="#7fa3e6" stroke-width="4" opacity=".38"/></svg><svg class="i" style="left:7.2px;top:242.85px;" width="5.6" height="4.8" viewBox="0 0 56 48"><path d="M3 40A25 25 0 0 1 53 40Q53 46 48 46H8Q3 46 3 40Z" fill="#fff"/><path d="M22 46V40H34V46Z" fill="#0a369a" opacity=".55"/></svg><div class="t" style="left:17px;top:245.75px;font-size:4.4px;color:#f4f7ff;transform:translate(0,-50%);"><span>碳技术应用</span></div><svg class="i" style="left:60.4px;top:244.55px;" width="3.2" height="2.4" viewBox="0 0 32 24"><path d="M4 5L16 18L28 5" fill="none" stroke="#7fa3e6" stroke-width="4" opacity=".38"/></svg><svg class="i" style="left:13.2px;top:109.08px;" width="5.6" height="5.6" viewBox="0 0 56 56"><path d="M50 6L4 26L26 31L31 52Z" fill="#fff"/></svg><div class="t" style="left:23px;top:111.88px;font-size:4.4px;color:#f4f7ff;transform:translate(0,-50%);"><span>化石燃料燃烧排放</span></div><svg class="i" style="left:14.1px;top:125.03px;" width="3.8" height="5.2" viewBox="0 0 38 52"><rect x="4" y="4" width="30" height="44" fill="none" stroke="#9db7e6" stroke-width="4" opacity=".35"/><path d="M8 12H30M8 24H30M8 36H30" stroke="#a9c1ee" stroke-width="5" opacity=".6"/></svg><div class="t" style="left:23px;top:127.62px;font-size:4.4px;color:#f4f7ff;transform:translate(0,-50%);"><span>购入电力排放</span></div><svg class="i" style="left:13.4px;top:140.57px;" width="5.2" height="5.6" viewBox="0 0 52 56"><path d="M4 4H48V40H30V52H4Z" fill="#fff"/><rect x="12" y="12" width="18" height="10" fill="#0c429e" opacity=".55"/></svg><div class="t" style="left:23px;top:143.38px;font-size:4.4px;color:#f4f7ff;transform:translate(0,-50%);"><span>碳排放量核算</span></div><svg class="i" style="left:13.4px;top:156.22px;" width="5.2" height="5.8" viewBox="0 0 52 58"><path d="M4 4H30L48 20V54H4Z" fill="#fff"/><path d="M14 30H38M14 41H38" stroke="#0b267e" stroke-width="5" opacity=".6"/></svg><div class="t" style="left:23px;top:159.12px;font-size:4.4px;color:#f4f7ff;transform:translate(0,-50%);"><span>核算核查对比</span></div></div></div>
<div class="shot" id="C"><div class="in"><svg class="i" style="left:75px;top:5.5px;" width="5.2" height="5.2" viewBox="0 0 52 52"><rect x="5" y="6" width="42" height="40" fill="none" stroke="#3d424a" stroke-width="6"/><path d="M19 6V46" stroke="#3d424a" stroke-width="5"/><path d="M27 17H41M27 26H41M27 35H41" stroke="#4a4f58" stroke-width="4"/></svg><div class="t" style="left:88.2px;top:8.1px;font-size:4.3px;color:#3f444c;transform:translate(0,-50%);"><span>首页</span></div><div class="t" style="left:100.8px;top:8.1px;font-size:4.1px;color:#aaa;transform:translate(-50%,-50%);"><span>/</span></div><div class="t" style="left:104.6px;top:8.1px;font-size:4.45px;color:#6a6f78;transform:translate(0,-50%);"><span>碳排放核算与管理</span></div><div class="t" style="left:143.8px;top:8.1px;font-size:4.1px;color:#aaa;transform:translate(-50%,-50%);"><span>/</span></div><div class="t" style="left:148.4px;top:8.1px;font-size:4.3px;color:#a9aeb6;transform:translate(0,-50%);"><span>化石燃料燃烧排放</span></div><svg class="i" style="left:413.8px;top:5.1px;" width="6.8" height="6.8" viewBox="0 0 68 68"><circle cx="27" cy="27" r="17" fill="none" stroke="#454a53" stroke-width="8"/><path d="M40 40L60 60" stroke="#454a53" stroke-width="10" stroke-linecap="round"/></svg><svg class="i" style="left:425.7px;top:5.4px;" width="7" height="6.2" viewBox="0 0 70 62"><path d="M5 5H27L19 13L29 23L23 29L13 19L5 27ZM65 5V27L57 19L47 29L41 23L51 13L43 5ZM5 57V35L13 43L23 33L29 39L19 49L27 57ZM65 57H43L51 49L41 39L47 33L57 43L65 35Z" fill="#454a53"/></svg><svg class="i" style="left:437.3px;top:5.7px;" width="6.2" height="5.8" viewBox="0 0 62 58"><path d="M22 7H60M41 7V56" stroke="#454a53" stroke-width="8"/><path d="M3 26H29M16 26V56" stroke="#454a53" stroke-width="7"/></svg><svg class="i" style="left:450px;top:5.1px;" width="6.4" height="6" viewBox="0 0 64 60"><rect x="3" y="4" width="58" height="52" rx="3" fill="#454a53"/><rect x="11" y="15" width="22" height="30" fill="#fff" opacity=".82"/><path d="M40 19H54M40 30H54M40 41H54" stroke="#fff" stroke-width="5" opacity=".7"/></svg><svg class="i" style="left:464px;top:5.9px;" width="6" height="6.4" viewBox="0 0 60 64"><path d="M30 3C16 3 11 14 11 26V38L3 48H57L49 38V26C49 14 44 3 30 3Z" fill="#454a53"/><path d="M22 52H38Q36 62 30 62Q24 62 22 52Z" fill="#454a53"/></svg><svg class="i" style="left:477.4px;top:2.8px;" width="12.8" height="12.8" viewBox="0 0 132 132"><circle cx="66" cy="66" r="65" fill="#191b21"/><ellipse cx="66" cy="54" rx="27" ry="31" fill="#fff"/><path d="M50 76L44 106Q66 116 88 106L82 76Z" fill="#fff"/><path d="M58 98L66 130L74 98L66 90Z" fill="#191b21"/></svg><svg class="i" style="left:493.5px;top:9px;" width="2.6" height="1.8" viewBox="0 0 26 18"><path d="M2 3H24L13 16Z" fill="#555"/></svg><div class="r" style="left:75.5px;top:18px;width:22px;height:7.4px;background:#fff;box-shadow:0 0 0 .5px #f1f2f5;"></div><div class="t" style="left:78px;top:21.7px;font-size:3.62px;color:#3f444c;transform:translate(0,-50%);"><span>集团首页</span></div><div class="r" style="left:97.5px;top:18px;width:45.7px;height:7.4px;background:#2d8cf0;border-radius:.4px;"></div><div class="r" style="left:101px;top:20.9px;width:1.7px;height:1.7px;background:#fff;border-radius:50%;"></div><div class="t" style="left:104.5px;top:21.7px;font-size:3.65px;color:#fff;transform:translate(0,-50%);"><span>化石燃料燃烧排放</span></div><svg class="i" style="left:138.1px;top:21px;" width="1.8" height="1.8" viewBox="0 0 18 18"><path d="M3 3L15 15M15 3L3 15" stroke="#fff" stroke-width="4" opacity="0.9"/></svg><div class="r" style="left:70px;top:26px;width:432px;height:1.2px;background:#e3e5ea;filter:blur(.45px);"></div><div class="t" style="left:76.3px;top:39.3px;font-size:4.4px;color:#3c4048;transform:translate(0,-50%);"><span>化石燃料消耗量</span></div><div class="t" style="left:113.8px;top:39.3px;font-size:4.4px;color:#3c4048;transform:translate(0,-50%);"><span>元素碳含量</span></div><div class="t" style="left:142px;top:39.3px;font-size:4.4px;color:#3c4048;transform:translate(0,-50%);"><span>低位发热量</span></div><div class="t" style="left:170.4px;top:39.3px;font-size:4.4px;color:#2d8cf0;transform:translate(0,-50%);"><span>单位热值碳含量</span></div><div class="r" style="left:76px;top:44.2px;width:420px;height:0.8px;background:#dfe3ea;"></div><div class="r" style="left:170px;top:43.9px;width:31.6px;height:1px;background:#2d8cf0;"></div><div class="t" style="left:284.6px;top:56.8px;font-size:5px;color:#1f2329;transform:translate(-50%,-50%);font-weight:bold;"><span>单位热值碳含量数据集（日）</span></div><div class="t" style="left:286px;top:62.9px;font-size:4.9px;color:#9a9fa7;transform:translate(-50%,-50%);"><span>(tC/GJ)</span></div><div class="r" style="left:388.5px;top:67.5px;width:42.5px;height:8.6px;background:#fff;box-shadow:inset 0 0 0 .5px #eceef3;border-radius:.6px;"></div><svg class="i" style="left:391px;top:70.4px;" width="3" height="3" viewBox="0 0 30 30"><rect x="3" y="6" width="24" height="21" fill="none" stroke="#b9bec8" stroke-width="4"/></svg><div class="t" style="left:396.6px;top:71.9px;font-size:4px;color:#9a9fa8;transform:translate(0,-50%);"><span>2019</span></div><div class="r" style="left:432.3px;top:67.5px;width:43.7px;height:8.6px;background:#fff;box-shadow:inset 0 0 0 .5px #eceef3;border-radius:.6px;"></div><div class="t" style="left:437px;top:71.9px;font-size:4px;color:#7b808a;transform:translate(0,-50%);"><span>5月</span></div><svg class="i" style="left:469.5px;top:71px;" width="2.6" height="1.8" viewBox="0 0 26 18"><path d="M3 4L13 14L23 4" fill="none" stroke="#b4b9c2" stroke-width="4"/></svg><div class="r" style="left:478px;top:68px;width:18px;height:8.5px;background:#1f86e8;border-radius:.8px;"></div><div class="t" style="left:487px;top:72.2px;font-size:3.9px;color:#fff;transform:translate(-50%,-50%);font-weight:bold;"><span>提交</span></div><div class="r" style="left:76.75px;top:79.3px;width:419.25px;height:28.3px;background:#f3f5fa;"></div><div class="t" style="left:93.6px;top:93.6px;font-size:4.1px;color:#4c5058;transform:translate(-50%,-50%);font-weight:bold;"><span>日期</span></div><div class="t" style="left:284.4px;top:86.8px;font-size:4.1px;color:#4c5058;transform:translate(-50%,-50%);font-weight:bold;"><span>机组</span></div><div class="r" style="left:110px;top:92.5px;width:347.7px;height:0.6px;background:#e9edf3;"></div><div class="t" style="left:169px;top:100.6px;font-size:4px;color:#4c5058;transform:translate(-50%,-50%);font-weight:bold;"><span>#1</span></div><div class="t" style="left:286.4px;top:100.6px;font-size:4px;color:#4c5058;transform:translate(-50%,-50%);font-weight:bold;"><span>#2</span></div><div class="t" style="left:400.6px;top:100.6px;font-size:4px;color:#4c5058;transform:translate(-50%,-50%);font-weight:bold;"><span>#3</span></div><div class="t" style="left:477.2px;top:93.6px;font-size:4.1px;color:#4c5058;transform:translate(-50%,-50%);font-weight:bold;"><span>操作</span></div><div class="r" style="left:76.75px;top:124.93px;width:419.25px;height:0.7px;background:#f3f4f7;"></div><div class="t" style="left:93.6px;top:116.7px;font-size:4.3px;color:#6d727b;transform:translate(-50%,-50%);"><span>1日</span></div><div class="t" style="left:131.22px;top:116.7px;font-size:4.3px;color:#3f444c;transform:translate(-50%,-50%);"><span>入炉煤</span></div><div class="t" style="left:159.45px;top:116.7px;font-size:4.3px;color:#3f444c;transform:translate(0,-50%);"><span>实测-自分</span></div><svg class="i" style="left:180.6px;top:115.8px;" width="2.6" height="1.8" viewBox="0 0 26 18"><path d="M3 4L13 14L23 4" fill="none" stroke="#b4b9c2" stroke-width="4"/></svg><div class="t" style="left:209.25px;top:116.7px;font-size:4.2px;color:#a3a8b0;transform:translate(-50%,-50%);"><span>0.03318</span></div><div class="t" style="left:247.62px;top:116.7px;font-size:4.3px;color:#3f444c;transform:translate(-50%,-50%);"><span>入炉煤</span></div><div class="t" style="left:274.95px;top:116.7px;font-size:4.3px;color:#3f444c;transform:translate(0,-50%);"><span>实测-自分</span></div><svg class="i" style="left:295.6px;top:115.8px;" width="2.6" height="1.8" viewBox="0 0 26 18"><path d="M3 4L13 14L23 4" fill="none" stroke="#b4b9c2" stroke-width="4"/></svg><div class="t" style="left:324.12px;top:116.7px;font-size:4.2px;color:#a3a8b0;transform:translate(-50%,-50%);"><span>0.01328</span></div><div class="t" style="left:362.12px;top:116.7px;font-size:4.3px;color:#3f444c;transform:translate(-50%,-50%);"><span>入炉煤</span></div><div class="t" style="left:389.2px;top:116.7px;font-size:4.3px;color:#3f444c;transform:translate(0,-50%);"><span>实测-自分</span></div><svg class="i" style="left:410.35px;top:115.8px;" width="2.6" height="1.8" viewBox="0 0 26 18"><path d="M3 4L13 14L23 4" fill="none" stroke="#b4b9c2" stroke-width="4"/></svg><div class="t" style="left:438.75px;top:116.7px;font-size:4.2px;color:#a3a8b0;transform:translate(-50%,-50%);"><span>0.03397</span></div><div class="t" style="left:466px;top:116.7px;font-size:4.2px;color:#3a8ee6;transform:translate(0,-50%);"><span>上传</span></div><div class="t" style="left:479.8px;top:116.7px;font-size:4.2px;color:#2f9aa8;transform:translate(0,-50%);"><span>下载</span></div><div class="r" style="left:76.75px;top:142.71px;width:419.25px;height:0.7px;background:#f3f4f7;"></div><div class="t" style="left:93.6px;top:134.48px;font-size:4.3px;color:#6d727b;transform:translate(-50%,-50%);"><span>2日</span></div><div class="t" style="left:131.22px;top:134.48px;font-size:4.3px;color:#3f444c;transform:translate(-50%,-50%);"><span>入厂煤</span></div><div class="t" style="left:159.45px;top:134.48px;font-size:4.3px;color:#3f444c;transform:translate(0,-50%);"><span>实测-委外</span></div><svg class="i" style="left:180.6px;top:133.58px;" width="2.6" height="1.8" viewBox="0 0 26 18"><path d="M3 4L13 14L23 4" fill="none" stroke="#b4b9c2" stroke-width="4"/></svg><div class="t" style="left:209.25px;top:134.48px;font-size:4.2px;color:#a3a8b0;transform:translate(-50%,-50%);"><span>0.03390</span></div><div class="t" style="left:247.62px;top:134.48px;font-size:4.3px;color:#3f444c;transform:translate(-50%,-50%);"><span>入厂煤</span></div><div class="t" style="left:274.95px;top:134.48px;font-size:4.3px;color:#3f444c;transform:translate(0,-50%);"><span>实测-委外</span></div><svg class="i" style="left:295.6px;top:133.58px;" width="2.6" height="1.8" viewBox="0 0 26 18"><path d="M3 4L13 14L23 4" fill="none" stroke="#b4b9c2" stroke-width="4"/></svg><div class="t" style="left:324.12px;top:134.48px;font-size:4.2px;color:#a3a8b0;transform:translate(-50%,-50%);"><span>0.01335</span></div><div class="t" style="left:362.12px;top:134.48px;font-size:4.3px;color:#3f444c;transform:translate(-50%,-50%);"><span>入厂煤</span></div><div class="t" style="left:389.2px;top:134.48px;font-size:4.3px;color:#3f444c;transform:translate(0,-50%);"><span>实测-委外</span></div><svg class="i" style="left:410.35px;top:133.58px;" width="2.6" height="1.8" viewBox="0 0 26 18"><path d="M3 4L13 14L23 4" fill="none" stroke="#b4b9c2" stroke-width="4"/></svg><div class="t" style="left:438.75px;top:134.48px;font-size:4.2px;color:#a3a8b0;transform:translate(-50%,-50%);"><span>0.03345</span></div><div class="t" style="left:466px;top:134.48px;font-size:4.2px;color:#3a8ee6;transform:translate(0,-50%);"><span>上传</span></div><div class="t" style="left:479.8px;top:134.48px;font-size:4.2px;color:#2f9aa8;transform:translate(0,-50%);"><span>下载</span></div><div class="r" style="left:76.75px;top:160.49px;width:419.25px;height:0.7px;background:#f3f4f7;"></div><div class="t" style="left:93.6px;top:152.26px;font-size:4.3px;color:#6d727b;transform:translate(-50%,-50%);"><span>3日</span></div><div class="t" style="left:131.22px;top:152.26px;font-size:4.3px;color:#3f444c;transform:translate(-50%,-50%);"><span>入厂煤</span></div><div class="t" style="left:159.45px;top:152.26px;font-size:4.3px;color:#3f444c;transform:translate(0,-50%);"><span>未实测</span></div><svg class="i" style="left:180.6px;top:151.36px;" width="2.6" height="1.8" viewBox="0 0 26 18"><path d="M3 4L13 14L23 4" fill="none" stroke="#b4b9c2" stroke-width="4"/></svg><div class="t" style="left:209.25px;top:152.26px;font-size:4.2px;color:#a3a8b0;transform:translate(-50%,-50%);"><span>0.03104</span></div><div class="t" style="left:247.62px;top:152.26px;font-size:4.3px;color:#3f444c;transform:translate(-50%,-50%);"><span>入厂煤</span></div><div class="t" style="left:274.95px;top:152.26px;font-size:4.3px;color:#3f444c;transform:translate(0,-50%);"><span>未实测</span></div><svg class="i" style="left:295.6px;top:151.36px;" width="2.6" height="1.8" viewBox="0 0 26 18"><path d="M3 4L13 14L23 4" fill="none" stroke="#b4b9c2" stroke-width="4"/></svg><div class="t" style="left:324.12px;top:152.26px;font-size:4.2px;color:#a3a8b0;transform:translate(-50%,-50%);"><span>0.03104</span></div><div class="t" style="left:362.12px;top:152.26px;font-size:4.3px;color:#3f444c;transform:translate(-50%,-50%);"><span>入厂煤</span></div><div class="t" style="left:389.2px;top:152.26px;font-size:4.3px;color:#3f444c;transform:translate(0,-50%);"><span>未实测</span></div><svg class="i" style="left:410.35px;top:151.36px;" width="2.6" height="1.8" viewBox="0 0 26 18"><path d="M3 4L13 14L23 4" fill="none" stroke="#b4b9c2" stroke-width="4"/></svg><div class="t" style="left:438.75px;top:152.26px;font-size:4.2px;color:#a3a8b0;transform:translate(-50%,-50%);"><span>0.03106</span></div><div class="t" style="left:466px;top:152.26px;font-size:4.2px;color:#3a8ee6;transform:translate(0,-50%);"><span>上传</span></div><div class="t" style="left:479.8px;top:152.26px;font-size:4.2px;color:#2f9aa8;transform:translate(0,-50%);"><span>下载</span></div><div class="r" style="left:76.75px;top:178.27px;width:419.25px;height:0.7px;background:#f3f4f7;"></div><div class="t" style="left:93.6px;top:170.04px;font-size:4.3px;color:#6d727b;transform:translate(-50%,-50%);"><span>4日</span></div><div class="t" style="left:131.22px;top:170.04px;font-size:4.3px;color:#3f444c;transform:translate(-50%,-50%);"><span>入炉煤</span></div><div class="t" style="left:159.45px;top:170.04px;font-size:4.3px;color:#3f444c;transform:translate(0,-50%);"><span>未实测</span></div><svg class="i" style="left:180.6px;top:169.14px;" width="2.6" height="1.8" viewBox="0 0 26 18"><path d="M3 4L13 14L23 4" fill="none" stroke="#b4b9c2" stroke-width="4"/></svg><div class="t" style="left:209.25px;top:170.04px;font-size:4.2px;color:#a3a8b0;transform:translate(-50%,-50%);"><span>0.03104</span></div><div class="t" style="left:247.62px;top:170.04px;font-size:4.3px;color:#3f444c;transform:translate(-50%,-50%);"><span>入炉煤</span></div><div class="t" style="left:274.95px;top:170.04px;font-size:4.3px;color:#3f444c;transform:translate(0,-50%);"><span>未实测</span></div><svg class="i" style="left:295.6px;top:169.14px;" width="2.6" height="1.8" viewBox="0 0 26 18"><path d="M3 4L13 14L23 4" fill="none" stroke="#b4b9c2" stroke-width="4"/></svg><div class="t" style="left:324.12px;top:170.04px;font-size:4.2px;color:#a3a8b0;transform:translate(-50%,-50%);"><span>0.03104</span></div><div class="t" style="left:362.12px;top:170.04px;font-size:4.3px;color:#3f444c;transform:translate(-50%,-50%);"><span>入炉煤</span></div><div class="t" style="left:389.2px;top:170.04px;font-size:4.3px;color:#3f444c;transform:translate(0,-50%);"><span>未实测</span></div><svg class="i" style="left:410.35px;top:169.14px;" width="2.6" height="1.8" viewBox="0 0 26 18"><path d="M3 4L13 14L23 4" fill="none" stroke="#b4b9c2" stroke-width="4"/></svg><div class="t" style="left:438.75px;top:170.04px;font-size:4.2px;color:#a3a8b0;transform:translate(-50%,-50%);"><span>0.03104</span></div><div class="t" style="left:466px;top:170.04px;font-size:4.2px;color:#3a8ee6;transform:translate(0,-50%);"><span>上传</span></div><div class="t" style="left:479.8px;top:170.04px;font-size:4.2px;color:#2f9aa8;transform:translate(0,-50%);"><span>下载</span></div><div class="r" style="left:76.75px;top:196.05px;width:419.25px;height:0.7px;background:#f3f4f7;"></div><div class="t" style="left:93.6px;top:187.82px;font-size:4.3px;color:#6d727b;transform:translate(-50%,-50%);"><span>5日</span></div><div class="t" style="left:131.22px;top:187.82px;font-size:4.3px;color:#3f444c;transform:translate(-50%,-50%);"><span>入炉煤</span></div><div class="t" style="left:159.45px;top:187.82px;font-size:4.3px;color:#3f444c;transform:translate(0,-50%);"><span>未实测</span></div><svg class="i" style="left:180.6px;top:186.92px;" width="2.6" height="1.8" viewBox="0 0 26 18"><path d="M3 4L13 14L23 4" fill="none" stroke="#b4b9c2" stroke-width="4"/></svg><div class="t" style="left:209.25px;top:187.82px;font-size:4.2px;color:#a3a8b0;transform:translate(-50%,-50%);"><span>0.03104</span></div><div class="t" style="left:247.62px;top:187.82px;font-size:4.3px;color:#3f444c;transform:translate(-50%,-50%);"><span>入炉煤</span></div><div class="t" style="left:274.95px;top:187.82px;font-size:4.3px;color:#3f444c;transform:translate(0,-50%);"><span>未实测</span></div><svg class="i" style="left:295.6px;top:186.92px;" width="2.6" height="1.8" viewBox="0 0 26 18"><path d="M3 4L13 14L23 4" fill="none" stroke="#b4b9c2" stroke-width="4"/></svg><div class="t" style="left:324.12px;top:187.82px;font-size:4.2px;color:#a3a8b0;transform:translate(-50%,-50%);"><span>0.03104</span></div><div class="t" style="left:362.12px;top:187.82px;font-size:4.3px;color:#3f444c;transform:translate(-50%,-50%);"><span>入炉煤</span></div><div class="t" style="left:389.2px;top:187.82px;font-size:4.3px;color:#3f444c;transform:translate(0,-50%);"><span>未实测</span></div><svg class="i" style="left:410.35px;top:186.92px;" width="2.6" height="1.8" viewBox="0 0 26 18"><path d="M3 4L13 14L23 4" fill="none" stroke="#b4b9c2" stroke-width="4"/></svg><div class="t" style="left:438.75px;top:187.82px;font-size:4.2px;color:#a3a8b0;transform:translate(-50%,-50%);"><span>0.03104</span></div><div class="t" style="left:466px;top:187.82px;font-size:4.2px;color:#3a8ee6;transform:translate(0,-50%);"><span>上传</span></div><div class="t" style="left:479.8px;top:187.82px;font-size:4.2px;color:#2f9aa8;transform:translate(0,-50%);"><span>下载</span></div><div class="r" style="left:109.65px;top:107.5px;width:0.7px;height:89px;background:#f6f7f9;"></div><div class="r" style="left:150.9px;top:107.5px;width:0.7px;height:89px;background:#f6f7f9;"></div><div class="r" style="left:189.65px;top:107.5px;width:0.7px;height:89px;background:#f6f7f9;"></div><div class="r" style="left:228.15px;top:107.5px;width:0.7px;height:89px;background:#f6f7f9;"></div><div class="r" style="left:266.4px;top:107.5px;width:0.7px;height:89px;background:#f6f7f9;"></div><div class="r" style="left:304.65px;top:107.5px;width:0.7px;height:89px;background:#f6f7f9;"></div><div class="r" style="left:342.9px;top:107.5px;width:0.7px;height:89px;background:#f6f7f9;"></div><div class="r" style="left:380.65px;top:107.5px;width:0.7px;height:89px;background:#f6f7f9;"></div><div class="r" style="left:419.4px;top:107.5px;width:0.7px;height:89px;background:#f6f7f9;"></div><div class="r" style="left:457.4px;top:107.5px;width:0.7px;height:89px;background:#f6f7f9;"></div><div class="r" style="left:76.4px;top:79.3px;width:0.7px;height:117.2px;background:#f6f7f9;"></div><div class="r" style="left:495.65px;top:79.3px;width:0.7px;height:117.2px;background:#f6f7f9;"></div><div class="r" style="left:109.65px;top:79.3px;width:0.7px;height:28.2px;background:#e9ecf2;"></div><div class="r" style="left:457.4px;top:79.3px;width:0.7px;height:28.2px;background:#e9ecf2;"></div><div class="r" style="left:228.15px;top:93px;width:0.7px;height:14.5px;background:#e9ecf2;"></div><div class="r" style="left:342.9px;top:93px;width:0.7px;height:14.5px;background:#e9ecf2;"></div><div class="r" style="left:76.75px;top:202px;width:419.25px;height:26px;background:#efefef;"></div><div class="t" style="left:132px;top:208.3px;font-size:4.3px;color:#6d727b;transform:translate(-50%,-50%);"><span>月平均</span></div><div class="t" style="left:132px;top:221.8px;font-size:4.3px;color:#6d727b;transform:translate(-50%,-50%);"><span>年平均</span></div><div class="t" style="left:206.8px;top:208.3px;font-size:4.2px;color:#a3a8b0;transform:translate(-50%,-50%);"><span>0.03184</span></div><div class="t" style="left:206.8px;top:221.8px;font-size:4.2px;color:#a3a8b0;transform:translate(-50%,-50%);"><span>0.03103</span></div><div class="t" style="left:322.5px;top:208.3px;font-size:4.2px;color:#a3a8b0;transform:translate(-50%,-50%);"><span>0.03106</span></div><div class="t" style="left:322.5px;top:221.8px;font-size:4.2px;color:#a3a8b0;transform:translate(-50%,-50%);"><span>0.03089</span></div><div class="t" style="left:438.75px;top:208.3px;font-size:4.2px;color:#a3a8b0;transform:translate(-50%,-50%);"><span>0.03082</span></div><div class="t" style="left:438.75px;top:221.8px;font-size:4.2px;color:#a3a8b0;transform:translate(-50%,-50%);"><span>0.03093</span></div><div class="r" style="left:181px;top:173px;width:123.2px;height:44.2px;background:#fff;"></div><div class="r" style="left:-6px;top:0px;width:76px;height:270px;background:linear-gradient(90deg,#0a33a0,#0b3a92 70%,#0b3a8e);"></div><div class="r" style="left:0px;top:103.3px;width:70px;height:64.2px;background:linear-gradient(90deg,#0b41a6,#0d4496 70%,#0d4492);"></div><div class="r" style="left:0px;top:104.5px;width:70px;height:15.75px;background:linear-gradient(90deg,#0a2386,#0c2a74);"></div><div class="r" style="left:1.2px;top:104.5px;width:1.5px;height:15.75px;background:#d8b035;"></div><svg class="i" style="left:6px;top:4.1px;" width="8" height="8" viewBox="0 0 80 80"><circle cx="40" cy="40" r="38" fill="#1d78e2"/><circle cx="34" cy="34" r="26" fill="#2f93f5" opacity=".7"/><path d="M25 57V25L55 55V23" fill="none" stroke="#e6f2ff" stroke-width="8" stroke-linejoin="round" stroke-linecap="round"/></svg><div class="t" style="left:17px;top:8.1px;font-size:4.4px;color:#fff;transform:translate(0,-50%);font-weight:bold;"><span>企业碳金融一体化平台</span></div><svg class="i" style="left:7.2px;top:22.6px;" width="5.6" height="4.8" viewBox="0 0 56 48"><path d="M3 40A25 25 0 0 1 53 40Q53 46 48 46H8Q3 46 3 40Z" fill="#fff"/><path d="M22 46V40H34V46Z" fill="#0a369a" opacity=".55"/></svg><div class="t" style="left:17px;top:25.5px;font-size:4.4px;color:#f4f7ff;transform:translate(0,-50%);"><span>集团首页</span></div><svg class="i" style="left:7.2px;top:40.2px;" width="5.6" height="5.6" viewBox="0 0 56 56"><circle cx="28" cy="28" r="17" fill="none" stroke="#fff" stroke-width="13"/></svg><div class="t" style="left:17px;top:43px;font-size:4.4px;color:#f4f7ff;transform:translate(0,-50%);"><span>基础数据配置</span></div><svg class="i" style="left:60.4px;top:41.8px;" width="3.2" height="2.4" viewBox="0 0 32 24"><path d="M4 5L16 18L28 5" fill="none" stroke="#7fa3e6" stroke-width="4" opacity=".38"/></svg><svg class="i" style="left:7.2px;top:57.7px;" width="5.6" height="5.6" viewBox="0 0 56 56"><circle cx="28" cy="28" r="17" fill="none" stroke="#fff" stroke-width="13"/></svg><div class="t" style="left:17px;top:60.5px;font-size:4.4px;color:#f4f7ff;transform:translate(0,-50%);"><span>能源综合管理</span></div><svg class="i" style="left:60.4px;top:59.3px;" width="3.2" height="2.4" viewBox="0 0 32 24"><path d="M4 5L16 18L28 5" fill="none" stroke="#7fa3e6" stroke-width="4" opacity=".38"/></svg><svg class="i" style="left:7.2px;top:75.2px;" width="5.6" height="5.6" viewBox="0 0 56 56"><circle cx="28" cy="28" r="17" fill="none" stroke="#fff" stroke-width="13"/></svg><div class="t" style="left:17px;top:78px;font-size:4.4px;color:#f4f7ff;transform:translate(0,-50%);"><span>因子库模型库管理</span></div><svg class="i" style="left:60.4px;top:76.8px;" width="3.2" height="2.4" viewBox="0 0 32 24"><path d="M4 5L16 18L28 5" fill="none" stroke="#7fa3e6" stroke-width="4" opacity=".38"/></svg><svg class="i" style="left:8.1px;top:92.9px;" width="3.8" height="5.2" viewBox="0 0 38 52"><rect x="4" y="4" width="30" height="44" fill="none" stroke="#9db7e6" stroke-width="4" opacity=".35"/><path d="M8 12H30M8 24H30M8 36H30" stroke="#a9c1ee" stroke-width="5" opacity=".6"/></svg><div class="t" style="left:17px;top:95.5px;font-size:4.4px;color:#f4f7ff;transform:translate(0,-50%);"><span>碳排放核算与管理</span></div><svg class="i" style="left:60.4px;top:94.3px;" width="3.2" height="2.4" viewBox="0 0 32 24"><path d="M4 5L16 18L28 5" fill="none" stroke="#7fa3e6" stroke-width="4" opacity=".38"/></svg><svg class="i" style="left:7.4px;top:173.8px;" width="5.2" height="4.4" viewBox="0 0 52 44"><rect x="4" y="4" width="44" height="30" rx="6" fill="#fff"/><rect x="14" y="36" width="24" height="5" fill="#fff" opacity=".7"/></svg><div class="t" style="left:17px;top:176px;font-size:4.4px;color:#f4f7ff;transform:translate(0,-50%);"><span>碳配额核算与管理</span></div><svg class="i" style="left:60.4px;top:174.8px;" width="3.2" height="2.4" viewBox="0 0 32 24"><path d="M4 5L16 18L28 5" fill="none" stroke="#7fa3e6" stroke-width="4" opacity=".38"/></svg><svg class="i" style="left:7.2px;top:190.6px;" width="5.6" height="4.8" viewBox="0 0 56 48"><path d="M3 40A25 25 0 0 1 53 40Q53 46 48 46H8Q3 46 3 40Z" fill="#fff"/><path d="M22 46V40H34V46Z" fill="#0a369a" opacity=".55"/></svg><div class="t" style="left:17px;top:193.5px;font-size:4.4px;color:#f4f7ff;transform:translate(0,-50%);"><span>碳交易策略</span></div><svg class="i" style="left:60.4px;top:192.3px;" width="3.2" height="2.4" viewBox="0 0 32 24"><path d="M4 5L16 18L28 5" fill="none" stroke="#7fa3e6" stroke-width="4" opacity=".38"/></svg><svg class="i" style="left:7.2px;top:208.35px;" width="5.6" height="4.8" viewBox="0 0 56 48"><path d="M3 40A25 25 0 0 1 53 40Q53 46 48 46H8Q3 46 3 40Z" fill="#fff"/><path d="M22 46V40H34V46Z" fill="#0a369a" opacity=".55"/></svg><div class="t" style="left:18.5px;top:211.25px;font-size:4.4px;color:#f4f7ff;transform:translate(0,-50%);"><span>碳资产管理</span></div><svg class="i" style="left:60.4px;top:210.05px;" width="3.2" height="2.4" viewBox="0 0 32 24"><path d="M4 5L16 18L28 5" fill="none" stroke="#7fa3e6" stroke-width="4" opacity=".38"/></svg><svg class="i" style="left:7.2px;top:225.85px;" width="5.6" height="4.8" viewBox="0 0 56 48"><path d="M3 40A25 25 0 0 1 53 40Q53 46 48 46H8Q3 46 3 40Z" fill="#fff"/><path d="M22 46V40H34V46Z" fill="#0a369a" opacity=".55"/></svg><div class="t" style="left:17px;top:228.75px;font-size:4.4px;color:#f4f7ff;transform:translate(0,-50%);"><span>碳金融支持</span></div><svg class="i" style="left:60.4px;top:227.55px;" width="3.2" height="2.4" viewBox="0 0 32 24"><path d="M4 5L16 18L28 5" fill="none" stroke="#7fa3e6" stroke-width="4" opacity=".38"/></svg><svg class="i" style="left:7.2px;top:243.35px;" width="5.6" height="4.8" viewBox="0 0 56 48"><path d="M3 40A25 25 0 0 1 53 40Q53 46 48 46H8Q3 46 3 40Z" fill="#fff"/><path d="M22 46V40H34V46Z" fill="#0a369a" opacity=".55"/></svg><div class="t" style="left:17px;top:246.25px;font-size:4.4px;color:#f4f7ff;transform:translate(0,-50%);"><span>碳技术应用</span></div><svg class="i" style="left:60.4px;top:245.05px;" width="3.2" height="2.4" viewBox="0 0 32 24"><path d="M4 5L16 18L28 5" fill="none" stroke="#7fa3e6" stroke-width="4" opacity=".38"/></svg><svg class="i" style="left:13.2px;top:109.58px;" width="5.6" height="5.6" viewBox="0 0 56 56"><path d="M50 6L4 26L26 31L31 52Z" fill="#fff"/></svg><div class="t" style="left:23px;top:112.38px;font-size:4.4px;color:#f4f7ff;transform:translate(0,-50%);"><span>化石燃料燃烧排放</span></div><svg class="i" style="left:14.1px;top:125.53px;" width="3.8" height="5.2" viewBox="0 0 38 52"><rect x="4" y="4" width="30" height="44" fill="none" stroke="#9db7e6" stroke-width="4" opacity=".35"/><path d="M8 12H30M8 24H30M8 36H30" stroke="#a9c1ee" stroke-width="5" opacity=".6"/></svg><div class="t" style="left:23px;top:128.12px;font-size:4.4px;color:#f4f7ff;transform:translate(0,-50%);"><span>购入电力排放</span></div><svg class="i" style="left:13.4px;top:141.07px;" width="5.2" height="5.6" viewBox="0 0 52 56"><path d="M4 4H48V40H30V52H4Z" fill="#fff"/><rect x="12" y="12" width="18" height="10" fill="#0c429e" opacity=".55"/></svg><div class="t" style="left:23px;top:143.88px;font-size:4.4px;color:#f4f7ff;transform:translate(0,-50%);"><span>碳排放量核算</span></div><svg class="i" style="left:13.4px;top:156.72px;" width="5.2" height="5.8" viewBox="0 0 52 58"><path d="M4 4H30L48 20V54H4Z" fill="#fff"/><path d="M14 30H38M14 41H38" stroke="#0b267e" stroke-width="5" opacity=".6"/></svg><div class="t" style="left:23px;top:159.62px;font-size:4.4px;color:#f4f7ff;transform:translate(0,-50%);"><span>核算核查对比</span></div></div></div>
<div id="edge"></div><div id="edgeL"></div>
</div></div>
</body>
</html>
